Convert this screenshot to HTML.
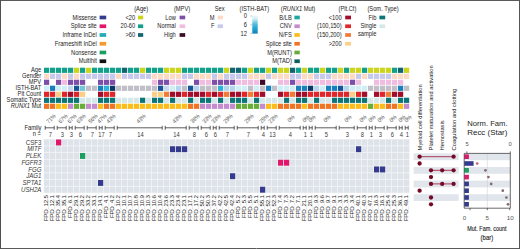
<!DOCTYPE html><html><head><meta charset="utf-8"><style>html,body{margin:0;padding:0;background:#fff;}body{width:520px;height:249px;overflow:hidden;}svg{display:block;}text{font-family:"Liberation Sans", sans-serif;}</style></head><body>
<svg width="520" height="249" viewBox="0 0 520 249" xmlns="http://www.w3.org/2000/svg">
<rect x="0" y="0" width="520" height="249" fill="#fff"/>
<g fill="#222">
<rect x="44.00" y="67.70" width="5.2" height="5.2" fill="#13a08a"/>
<rect x="50.00" y="67.70" width="5.2" height="5.2" fill="#13a08a"/>
<rect x="56.00" y="67.70" width="5.2" height="5.2" fill="#13a08a"/>
<rect x="62.00" y="67.70" width="5.2" height="5.2" fill="#13a08a"/>
<rect x="68.00" y="67.70" width="5.2" height="5.2" fill="#13a08a"/>
<rect x="74.00" y="67.70" width="5.2" height="5.2" fill="#ccd41e"/>
<rect x="80.00" y="67.70" width="5.2" height="5.2" fill="#13a08a"/>
<rect x="86.00" y="67.70" width="5.2" height="5.2" fill="#ccd41e"/>
<rect x="92.00" y="67.70" width="5.2" height="5.2" fill="#13a08a"/>
<rect x="98.00" y="67.70" width="5.2" height="5.2" fill="#13a08a"/>
<rect x="104.00" y="67.70" width="5.2" height="5.2" fill="#13a08a"/>
<rect x="110.00" y="67.70" width="5.2" height="5.2" fill="#13a08a"/>
<rect x="116.00" y="67.70" width="5.2" height="5.2" fill="#13a08a"/>
<rect x="122.00" y="67.70" width="5.2" height="5.2" fill="#106570"/>
<rect x="128.00" y="67.70" width="5.2" height="5.2" fill="#13a08a"/>
<rect x="134.00" y="67.70" width="5.2" height="5.2" fill="#13a08a"/>
<rect x="140.00" y="67.70" width="5.2" height="5.2" fill="#ccd41e"/>
<rect x="146.00" y="67.70" width="5.2" height="5.2" fill="#13a08a"/>
<rect x="152.00" y="67.70" width="5.2" height="5.2" fill="#13a08a"/>
<rect x="158.00" y="67.70" width="5.2" height="5.2" fill="#13a08a"/>
<rect x="164.00" y="67.70" width="5.2" height="5.2" fill="#ccd41e"/>
<rect x="170.00" y="67.70" width="5.2" height="5.2" fill="#ccd41e"/>
<rect x="176.00" y="67.70" width="5.2" height="5.2" fill="#ccd41e"/>
<rect x="182.00" y="67.70" width="5.2" height="5.2" fill="#13a08a"/>
<rect x="188.00" y="67.70" width="5.2" height="5.2" fill="#13a08a"/>
<rect x="194.00" y="67.70" width="5.2" height="5.2" fill="#13a08a"/>
<rect x="200.00" y="67.70" width="5.2" height="5.2" fill="#13a08a"/>
<rect x="206.00" y="67.70" width="5.2" height="5.2" fill="#13a08a"/>
<rect x="212.00" y="67.70" width="5.2" height="5.2" fill="#13a08a"/>
<rect x="218.00" y="67.70" width="5.2" height="5.2" fill="#13a08a"/>
<rect x="224.00" y="67.70" width="5.2" height="5.2" fill="#ccd41e"/>
<rect x="230.00" y="67.70" width="5.2" height="5.2" fill="#106570"/>
<rect x="236.00" y="67.70" width="5.2" height="5.2" fill="#106570"/>
<rect x="242.00" y="67.70" width="5.2" height="5.2" fill="#13a08a"/>
<rect x="248.00" y="67.70" width="5.2" height="5.2" fill="#ccd41e"/>
<rect x="254.00" y="67.70" width="5.2" height="5.2" fill="#13a08a"/>
<rect x="260.00" y="67.70" width="5.2" height="5.2" fill="#13a08a"/>
<rect x="266.00" y="67.70" width="5.2" height="5.2" fill="#ccd41e"/>
<rect x="272.00" y="67.70" width="5.2" height="5.2" fill="#13a08a"/>
<rect x="278.00" y="67.70" width="5.2" height="5.2" fill="#ccd41e"/>
<rect x="284.00" y="67.70" width="5.2" height="5.2" fill="#ccd41e"/>
<rect x="290.00" y="67.70" width="5.2" height="5.2" fill="#106570"/>
<rect x="296.00" y="67.70" width="5.2" height="5.2" fill="#13a08a"/>
<rect x="302.00" y="67.70" width="5.2" height="5.2" fill="#ccd41e"/>
<rect x="308.00" y="67.70" width="5.2" height="5.2" fill="#13a08a"/>
<rect x="314.00" y="67.70" width="5.2" height="5.2" fill="#13a08a"/>
<rect x="320.00" y="67.70" width="5.2" height="5.2" fill="#ccd41e"/>
<rect x="326.00" y="67.70" width="5.2" height="5.2" fill="#13a08a"/>
<rect x="332.00" y="67.70" width="5.2" height="5.2" fill="#13a08a"/>
<rect x="338.00" y="67.70" width="5.2" height="5.2" fill="#ccd41e"/>
<rect x="344.00" y="67.70" width="5.2" height="5.2" fill="#13a08a"/>
<rect x="350.00" y="67.70" width="5.2" height="5.2" fill="#ccd41e"/>
<rect x="356.00" y="67.70" width="5.2" height="5.2" fill="#ccd41e"/>
<rect x="362.00" y="67.70" width="5.2" height="5.2" fill="#13a08a"/>
<rect x="368.00" y="67.70" width="5.2" height="5.2" fill="#ccd41e"/>
<rect x="374.00" y="67.70" width="5.2" height="5.2" fill="#ccd41e"/>
<rect x="380.00" y="67.70" width="5.2" height="5.2" fill="#ccd41e"/>
<rect x="386.00" y="67.70" width="5.2" height="5.2" fill="#ccd41e"/>
<rect x="392.00" y="67.70" width="5.2" height="5.2" fill="#13a08a"/>
<rect x="398.00" y="67.70" width="5.2" height="5.2" fill="#106570"/>
<rect x="404.00" y="67.70" width="5.2" height="5.2" fill="#ccd41e"/>
<rect x="44.00" y="73.70" width="5.2" height="5.2" fill="#fcdac4"/>
<rect x="50.00" y="73.70" width="5.2" height="5.2" fill="#c6c8ec"/>
<rect x="56.00" y="73.70" width="5.2" height="5.2" fill="#c6c8ec"/>
<rect x="62.00" y="73.70" width="5.2" height="5.2" fill="#fcdac4"/>
<rect x="68.00" y="73.70" width="5.2" height="5.2" fill="#c6c8ec"/>
<rect x="74.00" y="73.70" width="5.2" height="5.2" fill="#fcdac4"/>
<rect x="80.00" y="73.70" width="5.2" height="5.2" fill="#c6c8ec"/>
<rect x="86.00" y="73.70" width="5.2" height="5.2" fill="#c6c8ec"/>
<rect x="92.00" y="73.70" width="5.2" height="5.2" fill="#c6c8ec"/>
<rect x="98.00" y="73.70" width="5.2" height="5.2" fill="#c6c8ec"/>
<rect x="104.00" y="73.70" width="5.2" height="5.2" fill="#c6c8ec"/>
<rect x="110.00" y="73.70" width="5.2" height="5.2" fill="#c6c8ec"/>
<rect x="116.00" y="73.70" width="5.2" height="5.2" fill="#fcdac4"/>
<rect x="122.00" y="73.70" width="5.2" height="5.2" fill="#c6c8ec"/>
<rect x="128.00" y="73.70" width="5.2" height="5.2" fill="#c6c8ec"/>
<rect x="134.00" y="73.70" width="5.2" height="5.2" fill="#c6c8ec"/>
<rect x="140.00" y="73.70" width="5.2" height="5.2" fill="#c6c8ec"/>
<rect x="146.00" y="73.70" width="5.2" height="5.2" fill="#c6c8ec"/>
<rect x="152.00" y="73.70" width="5.2" height="5.2" fill="#fcdac4"/>
<rect x="158.00" y="73.70" width="5.2" height="5.2" fill="#fcdac4"/>
<rect x="164.00" y="73.70" width="5.2" height="5.2" fill="#fcdac4"/>
<rect x="170.00" y="73.70" width="5.2" height="5.2" fill="#fcdac4"/>
<rect x="176.00" y="73.70" width="5.2" height="5.2" fill="#fcdac4"/>
<rect x="182.00" y="73.70" width="5.2" height="5.2" fill="#c6c8ec"/>
<rect x="188.00" y="73.70" width="5.2" height="5.2" fill="#c6c8ec"/>
<rect x="194.00" y="73.70" width="5.2" height="5.2" fill="#fcdac4"/>
<rect x="200.00" y="73.70" width="5.2" height="5.2" fill="#fcdac4"/>
<rect x="206.00" y="73.70" width="5.2" height="5.2" fill="#fcdac4"/>
<rect x="212.00" y="73.70" width="5.2" height="5.2" fill="#c6c8ec"/>
<rect x="218.00" y="73.70" width="5.2" height="5.2" fill="#fcdac4"/>
<rect x="224.00" y="73.70" width="5.2" height="5.2" fill="#c6c8ec"/>
<rect x="230.00" y="73.70" width="5.2" height="5.2" fill="#c6c8ec"/>
<rect x="236.00" y="73.70" width="5.2" height="5.2" fill="#c6c8ec"/>
<rect x="242.00" y="73.70" width="5.2" height="5.2" fill="#c6c8ec"/>
<rect x="248.00" y="73.70" width="5.2" height="5.2" fill="#fcdac4"/>
<rect x="254.00" y="73.70" width="5.2" height="5.2" fill="#fcdac4"/>
<rect x="260.00" y="73.70" width="5.2" height="5.2" fill="#fcdac4"/>
<rect x="266.00" y="73.70" width="5.2" height="5.2" fill="#c6c8ec"/>
<rect x="272.00" y="73.70" width="5.2" height="5.2" fill="#fcdac4"/>
<rect x="278.00" y="73.70" width="5.2" height="5.2" fill="#fcdac4"/>
<rect x="284.00" y="73.70" width="5.2" height="5.2" fill="#fcdac4"/>
<rect x="290.00" y="73.70" width="5.2" height="5.2" fill="#c6c8ec"/>
<rect x="296.00" y="73.70" width="5.2" height="5.2" fill="#c6c8ec"/>
<rect x="302.00" y="73.70" width="5.2" height="5.2" fill="#fcdac4"/>
<rect x="308.00" y="73.70" width="5.2" height="5.2" fill="#fcdac4"/>
<rect x="314.00" y="73.70" width="5.2" height="5.2" fill="#c6c8ec"/>
<rect x="320.00" y="73.70" width="5.2" height="5.2" fill="#c6c8ec"/>
<rect x="326.00" y="73.70" width="5.2" height="5.2" fill="#c6c8ec"/>
<rect x="332.00" y="73.70" width="5.2" height="5.2" fill="#fcdac4"/>
<rect x="338.00" y="73.70" width="5.2" height="5.2" fill="#fcdac4"/>
<rect x="344.00" y="73.70" width="5.2" height="5.2" fill="#fcdac4"/>
<rect x="350.00" y="73.70" width="5.2" height="5.2" fill="#fcdac4"/>
<rect x="356.00" y="73.70" width="5.2" height="5.2" fill="#c6c8ec"/>
<rect x="362.00" y="73.70" width="5.2" height="5.2" fill="#fcdac4"/>
<rect x="368.00" y="73.70" width="5.2" height="5.2" fill="#c6c8ec"/>
<rect x="374.00" y="73.70" width="5.2" height="5.2" fill="#c6c8ec"/>
<rect x="380.00" y="73.70" width="5.2" height="5.2" fill="#c6c8ec"/>
<rect x="386.00" y="73.70" width="5.2" height="5.2" fill="#c6c8ec"/>
<rect x="392.00" y="73.70" width="5.2" height="5.2" fill="#fcdac4"/>
<rect x="398.00" y="73.70" width="5.2" height="5.2" fill="#fcdac4"/>
<rect x="404.00" y="73.70" width="5.2" height="5.2" fill="#fcdac4"/>
<rect x="44.00" y="79.70" width="5.2" height="5.2" fill="#7e4fa8"/>
<rect x="56.00" y="79.70" width="5.2" height="5.2" fill="#7e4fa8"/>
<rect x="62.00" y="79.70" width="5.2" height="5.2" fill="#f0bce0"/>
<rect x="68.00" y="79.70" width="5.2" height="5.2" fill="#7e4fa8"/>
<rect x="74.00" y="79.70" width="5.2" height="5.2" fill="#7e4fa8"/>
<rect x="80.00" y="79.70" width="5.2" height="5.2" fill="#7e4fa8"/>
<rect x="98.00" y="79.70" width="5.2" height="5.2" fill="#7e4fa8"/>
<rect x="104.00" y="79.70" width="5.2" height="5.2" fill="#7e4fa8"/>
<rect x="110.00" y="79.70" width="5.2" height="5.2" fill="#7e4fa8"/>
<rect x="152.00" y="79.70" width="5.2" height="5.2" fill="#f0bce0"/>
<rect x="158.00" y="79.70" width="5.2" height="5.2" fill="#7e4fa8"/>
<rect x="164.00" y="79.70" width="5.2" height="5.2" fill="#7e4fa8"/>
<rect x="170.00" y="79.70" width="5.2" height="5.2" fill="#f0bce0"/>
<rect x="176.00" y="79.70" width="5.2" height="5.2" fill="#f0bce0"/>
<rect x="182.00" y="79.70" width="5.2" height="5.2" fill="#f0bce0"/>
<rect x="194.00" y="79.70" width="5.2" height="5.2" fill="#7e4fa8"/>
<rect x="200.00" y="79.70" width="5.2" height="5.2" fill="#f0bce0"/>
<rect x="206.00" y="79.70" width="5.2" height="5.2" fill="#f0bce0"/>
<rect x="212.00" y="79.70" width="5.2" height="5.2" fill="#7e4fa8"/>
<rect x="218.00" y="79.70" width="5.2" height="5.2" fill="#7e4fa8"/>
<rect x="224.00" y="79.70" width="5.2" height="5.2" fill="#7e4fa8"/>
<rect x="230.00" y="79.70" width="5.2" height="5.2" fill="#7e4fa8"/>
<rect x="236.00" y="79.70" width="5.2" height="5.2" fill="#f0bce0"/>
<rect x="242.00" y="79.70" width="5.2" height="5.2" fill="#f0bce0"/>
<rect x="248.00" y="79.70" width="5.2" height="5.2" fill="#f0bce0"/>
<rect x="254.00" y="79.70" width="5.2" height="5.2" fill="#f0bce0"/>
<rect x="260.00" y="79.70" width="5.2" height="5.2" fill="#3d0b26"/>
<rect x="278.00" y="79.70" width="5.2" height="5.2" fill="#f0bce0"/>
<rect x="284.00" y="79.70" width="5.2" height="5.2" fill="#f0bce0"/>
<rect x="290.00" y="79.70" width="5.2" height="5.2" fill="#7e4fa8"/>
<rect x="296.00" y="79.70" width="5.2" height="5.2" fill="#f0bce0"/>
<rect x="302.00" y="79.70" width="5.2" height="5.2" fill="#f0bce0"/>
<rect x="308.00" y="79.70" width="5.2" height="5.2" fill="#f0bce0"/>
<rect x="314.00" y="79.70" width="5.2" height="5.2" fill="#f0bce0"/>
<rect x="320.00" y="79.70" width="5.2" height="5.2" fill="#f0bce0"/>
<rect x="326.00" y="79.70" width="5.2" height="5.2" fill="#f0bce0"/>
<rect x="332.00" y="79.70" width="5.2" height="5.2" fill="#f0bce0"/>
<rect x="338.00" y="79.70" width="5.2" height="5.2" fill="#f0bce0"/>
<rect x="344.00" y="79.70" width="5.2" height="5.2" fill="#f0bce0"/>
<rect x="350.00" y="79.70" width="5.2" height="5.2" fill="#7e4fa8"/>
<rect x="356.00" y="79.70" width="5.2" height="5.2" fill="#f0bce0"/>
<rect x="374.00" y="79.70" width="5.2" height="5.2" fill="#f0bce0"/>
<rect x="380.00" y="79.70" width="5.2" height="5.2" fill="#f0bce0"/>
<rect x="386.00" y="79.70" width="5.2" height="5.2" fill="#f0bce0"/>
<rect x="392.00" y="79.70" width="5.2" height="5.2" fill="#f0bce0"/>
<rect x="398.00" y="79.70" width="5.2" height="5.2" fill="#f0bce0"/>
<rect x="44.00" y="85.70" width="5.2" height="5.2" fill="#d0eef5"/>
<rect x="50.00" y="85.70" width="5.2" height="5.2" fill="#1a80bd"/>
<rect x="56.00" y="85.70" width="5.2" height="5.2" fill="#d0eef5"/>
<rect x="62.00" y="85.70" width="5.2" height="5.2" fill="#d0eef5"/>
<rect x="68.00" y="85.70" width="5.2" height="5.2" fill="#c8d6f0"/>
<rect x="74.00" y="85.70" width="5.2" height="5.2" fill="#185596"/>
<rect x="80.00" y="85.70" width="5.2" height="5.2" fill="#74c6d6"/>
<rect x="86.00" y="85.70" width="5.2" height="5.2" fill="#c0bfc7"/>
<rect x="92.00" y="85.70" width="5.2" height="5.2" fill="#c0bfc7"/>
<rect x="98.00" y="85.70" width="5.2" height="5.2" fill="#1a80bd"/>
<rect x="104.00" y="85.70" width="5.2" height="5.2" fill="#2cb1d8"/>
<rect x="110.00" y="85.70" width="5.2" height="5.2" fill="#0c3766"/>
<rect x="116.00" y="85.70" width="5.2" height="5.2" fill="#c0bfc7"/>
<rect x="122.00" y="85.70" width="5.2" height="5.2" fill="#c0bfc7"/>
<rect x="128.00" y="85.70" width="5.2" height="5.2" fill="#c0bfc7"/>
<rect x="134.00" y="85.70" width="5.2" height="5.2" fill="#c0bfc7"/>
<rect x="140.00" y="85.70" width="5.2" height="5.2" fill="#c0bfc7"/>
<rect x="146.00" y="85.70" width="5.2" height="5.2" fill="#c0bfc7"/>
<rect x="152.00" y="85.70" width="5.2" height="5.2" fill="#c0bfc7"/>
<rect x="158.00" y="85.70" width="5.2" height="5.2" fill="#185596"/>
<rect x="164.00" y="85.70" width="5.2" height="5.2" fill="#c8d6f0"/>
<rect x="170.00" y="85.70" width="5.2" height="5.2" fill="#d0eef5"/>
<rect x="176.00" y="85.70" width="5.2" height="5.2" fill="#b4d6ec"/>
<rect x="182.00" y="85.70" width="5.2" height="5.2" fill="#c0bfc7"/>
<rect x="188.00" y="85.70" width="5.2" height="5.2" fill="#185596"/>
<rect x="194.00" y="85.70" width="5.2" height="5.2" fill="#b4d6ec"/>
<rect x="200.00" y="85.70" width="5.2" height="5.2" fill="#c0bfc7"/>
<rect x="206.00" y="85.70" width="5.2" height="5.2" fill="#c0bfc7"/>
<rect x="212.00" y="85.70" width="5.2" height="5.2" fill="#c0bfc7"/>
<rect x="218.00" y="85.70" width="5.2" height="5.2" fill="#2cb1d8"/>
<rect x="224.00" y="85.70" width="5.2" height="5.2" fill="#b4d6ec"/>
<rect x="230.00" y="85.70" width="5.2" height="5.2" fill="#b4d6ec"/>
<rect x="236.00" y="85.70" width="5.2" height="5.2" fill="#d0eef5"/>
<rect x="242.00" y="85.70" width="5.2" height="5.2" fill="#d0eef5"/>
<rect x="248.00" y="85.70" width="5.2" height="5.2" fill="#c0bfc7"/>
<rect x="254.00" y="85.70" width="5.2" height="5.2" fill="#d0eef5"/>
<rect x="260.00" y="85.70" width="5.2" height="5.2" fill="#c0bfc7"/>
<rect x="266.00" y="85.70" width="5.2" height="5.2" fill="#1a80bd"/>
<rect x="272.00" y="85.70" width="5.2" height="5.2" fill="#c0bfc7"/>
<rect x="278.00" y="85.70" width="5.2" height="5.2" fill="#d0eef5"/>
<rect x="284.00" y="85.70" width="5.2" height="5.2" fill="#d0eef5"/>
<rect x="290.00" y="85.70" width="5.2" height="5.2" fill="#d0eef5"/>
<rect x="296.00" y="85.70" width="5.2" height="5.2" fill="#1a80bd"/>
<rect x="302.00" y="85.70" width="5.2" height="5.2" fill="#1a80bd"/>
<rect x="308.00" y="85.70" width="5.2" height="5.2" fill="#0c3766"/>
<rect x="314.00" y="85.70" width="5.2" height="5.2" fill="#b4d6ec"/>
<rect x="320.00" y="85.70" width="5.2" height="5.2" fill="#d0eef5"/>
<rect x="326.00" y="85.70" width="5.2" height="5.2" fill="#1a80bd"/>
<rect x="332.00" y="85.70" width="5.2" height="5.2" fill="#1a80bd"/>
<rect x="338.00" y="85.70" width="5.2" height="5.2" fill="#185596"/>
<rect x="344.00" y="85.70" width="5.2" height="5.2" fill="#b4d6ec"/>
<rect x="350.00" y="85.70" width="5.2" height="5.2" fill="#d0eef5"/>
<rect x="356.00" y="85.70" width="5.2" height="5.2" fill="#d0eef5"/>
<rect x="362.00" y="85.70" width="5.2" height="5.2" fill="#d0eef5"/>
<rect x="368.00" y="85.70" width="5.2" height="5.2" fill="#c0bfc7"/>
<rect x="374.00" y="85.70" width="5.2" height="5.2" fill="#c0bfc7"/>
<rect x="380.00" y="85.70" width="5.2" height="5.2" fill="#c0bfc7"/>
<rect x="386.00" y="85.70" width="5.2" height="5.2" fill="#c0bfc7"/>
<rect x="392.00" y="85.70" width="5.2" height="5.2" fill="#c0bfc7"/>
<rect x="398.00" y="85.70" width="5.2" height="5.2" fill="#1a80bd"/>
<rect x="404.00" y="85.70" width="5.2" height="5.2" fill="#c0bfc7"/>
<rect x="44.00" y="91.70" width="5.2" height="5.2" fill="#e1262b"/>
<rect x="50.00" y="91.70" width="5.2" height="5.2" fill="#e1262b"/>
<rect x="56.00" y="91.70" width="5.2" height="5.2" fill="#fbcf86"/>
<rect x="62.00" y="91.70" width="5.2" height="5.2" fill="#e1262b"/>
<rect x="68.00" y="91.70" width="5.2" height="5.2" fill="#a10d2a"/>
<rect x="74.00" y="91.70" width="5.2" height="5.2" fill="#e1262b"/>
<rect x="80.00" y="91.70" width="5.2" height="5.2" fill="#fbcf86"/>
<rect x="98.00" y="91.70" width="5.2" height="5.2" fill="#a10d2a"/>
<rect x="104.00" y="91.70" width="5.2" height="5.2" fill="#e1262b"/>
<rect x="110.00" y="91.70" width="5.2" height="5.2" fill="#e1262b"/>
<rect x="152.00" y="91.70" width="5.2" height="5.2" fill="#fbcf86"/>
<rect x="158.00" y="91.70" width="5.2" height="5.2" fill="#fbcf86"/>
<rect x="164.00" y="91.70" width="5.2" height="5.2" fill="#f07c38"/>
<rect x="170.00" y="91.70" width="5.2" height="5.2" fill="#a10d2a"/>
<rect x="176.00" y="91.70" width="5.2" height="5.2" fill="#a10d2a"/>
<rect x="182.00" y="91.70" width="5.2" height="5.2" fill="#e1262b"/>
<rect x="188.00" y="91.70" width="5.2" height="5.2" fill="#a10d2a"/>
<rect x="194.00" y="91.70" width="5.2" height="5.2" fill="#a10d2a"/>
<rect x="200.00" y="91.70" width="5.2" height="5.2" fill="#a10d2a"/>
<rect x="206.00" y="91.70" width="5.2" height="5.2" fill="#e1262b"/>
<rect x="212.00" y="91.70" width="5.2" height="5.2" fill="#a10d2a"/>
<rect x="218.00" y="91.70" width="5.2" height="5.2" fill="#e1262b"/>
<rect x="224.00" y="91.70" width="5.2" height="5.2" fill="#f07c38"/>
<rect x="230.00" y="91.70" width="5.2" height="5.2" fill="#a10d2a"/>
<rect x="236.00" y="91.70" width="5.2" height="5.2" fill="#a10d2a"/>
<rect x="242.00" y="91.70" width="5.2" height="5.2" fill="#e1262b"/>
<rect x="248.00" y="91.70" width="5.2" height="5.2" fill="#f07c38"/>
<rect x="254.00" y="91.70" width="5.2" height="5.2" fill="#e1262b"/>
<rect x="260.00" y="91.70" width="5.2" height="5.2" fill="#a10d2a"/>
<rect x="278.00" y="91.70" width="5.2" height="5.2" fill="#a10d2a"/>
<rect x="284.00" y="91.70" width="5.2" height="5.2" fill="#e1262b"/>
<rect x="290.00" y="91.70" width="5.2" height="5.2" fill="#f07c38"/>
<rect x="296.00" y="91.70" width="5.2" height="5.2" fill="#a10d2a"/>
<rect x="302.00" y="91.70" width="5.2" height="5.2" fill="#a10d2a"/>
<rect x="308.00" y="91.70" width="5.2" height="5.2" fill="#e1262b"/>
<rect x="314.00" y="91.70" width="5.2" height="5.2" fill="#e1262b"/>
<rect x="320.00" y="91.70" width="5.2" height="5.2" fill="#e1262b"/>
<rect x="326.00" y="91.70" width="5.2" height="5.2" fill="#e1262b"/>
<rect x="332.00" y="91.70" width="5.2" height="5.2" fill="#e1262b"/>
<rect x="338.00" y="91.70" width="5.2" height="5.2" fill="#e1262b"/>
<rect x="344.00" y="91.70" width="5.2" height="5.2" fill="#e1262b"/>
<rect x="350.00" y="91.70" width="5.2" height="5.2" fill="#fbcf86"/>
<rect x="356.00" y="91.70" width="5.2" height="5.2" fill="#e1262b"/>
<rect x="362.00" y="91.70" width="5.2" height="5.2" fill="#a10d2a"/>
<rect x="374.00" y="91.70" width="5.2" height="5.2" fill="#a10d2a"/>
<rect x="380.00" y="91.70" width="5.2" height="5.2" fill="#e1262b"/>
<rect x="386.00" y="91.70" width="5.2" height="5.2" fill="#f07c38"/>
<rect x="392.00" y="91.70" width="5.2" height="5.2" fill="#a10d2a"/>
<rect x="398.00" y="91.70" width="5.2" height="5.2" fill="#a10d2a"/>
<rect x="44.00" y="97.70" width="5.2" height="5.2" fill="#0d7478"/>
<rect x="50.00" y="97.70" width="5.2" height="5.2" fill="#0d7478"/>
<rect x="56.00" y="97.70" width="5.2" height="5.2" fill="#0d7478"/>
<rect x="62.00" y="97.70" width="5.2" height="5.2" fill="#0d7478"/>
<rect x="68.00" y="97.70" width="5.2" height="5.2" fill="#0d7478"/>
<rect x="74.00" y="97.70" width="5.2" height="5.2" fill="#0d7478"/>
<rect x="80.00" y="97.70" width="5.2" height="5.2" fill="#d4e8ea"/>
<rect x="86.00" y="97.70" width="5.2" height="5.2" fill="#d4e8ea"/>
<rect x="92.00" y="97.70" width="5.2" height="5.2" fill="#d4e8ea"/>
<rect x="98.00" y="97.70" width="5.2" height="5.2" fill="#0d7478"/>
<rect x="104.00" y="97.70" width="5.2" height="5.2" fill="#0d7478"/>
<rect x="110.00" y="97.70" width="5.2" height="5.2" fill="#0d7478"/>
<rect x="116.00" y="97.70" width="5.2" height="5.2" fill="#d4e8ea"/>
<rect x="122.00" y="97.70" width="5.2" height="5.2" fill="#d4e8ea"/>
<rect x="128.00" y="97.70" width="5.2" height="5.2" fill="#d4e8ea"/>
<rect x="134.00" y="97.70" width="5.2" height="5.2" fill="#d4e8ea"/>
<rect x="140.00" y="97.70" width="5.2" height="5.2" fill="#0d7478"/>
<rect x="146.00" y="97.70" width="5.2" height="5.2" fill="#d4e8ea"/>
<rect x="152.00" y="97.70" width="5.2" height="5.2" fill="#0d7478"/>
<rect x="158.00" y="97.70" width="5.2" height="5.2" fill="#0d7478"/>
<rect x="164.00" y="97.70" width="5.2" height="5.2" fill="#d4e8ea"/>
<rect x="170.00" y="97.70" width="5.2" height="5.2" fill="#0d7478"/>
<rect x="176.00" y="97.70" width="5.2" height="5.2" fill="#d4e8ea"/>
<rect x="182.00" y="97.70" width="5.2" height="5.2" fill="#d4e8ea"/>
<rect x="188.00" y="97.70" width="5.2" height="5.2" fill="#0d7478"/>
<rect x="194.00" y="97.70" width="5.2" height="5.2" fill="#d4e8ea"/>
<rect x="200.00" y="97.70" width="5.2" height="5.2" fill="#0d7478"/>
<rect x="206.00" y="97.70" width="5.2" height="5.2" fill="#0d7478"/>
<rect x="212.00" y="97.70" width="5.2" height="5.2" fill="#d4e8ea"/>
<rect x="218.00" y="97.70" width="5.2" height="5.2" fill="#0d7478"/>
<rect x="224.00" y="97.70" width="5.2" height="5.2" fill="#d4e8ea"/>
<rect x="230.00" y="97.70" width="5.2" height="5.2" fill="#0d7478"/>
<rect x="236.00" y="97.70" width="5.2" height="5.2" fill="#0d7478"/>
<rect x="242.00" y="97.70" width="5.2" height="5.2" fill="#0d7478"/>
<rect x="248.00" y="97.70" width="5.2" height="5.2" fill="#d4e8ea"/>
<rect x="254.00" y="97.70" width="5.2" height="5.2" fill="#0d7478"/>
<rect x="260.00" y="97.70" width="5.2" height="5.2" fill="#d4e8ea"/>
<rect x="266.00" y="97.70" width="5.2" height="5.2" fill="#d4e8ea"/>
<rect x="272.00" y="97.70" width="5.2" height="5.2" fill="#d4e8ea"/>
<rect x="278.00" y="97.70" width="5.2" height="5.2" fill="#d4e8ea"/>
<rect x="284.00" y="97.70" width="5.2" height="5.2" fill="#0d7478"/>
<rect x="290.00" y="97.70" width="5.2" height="5.2" fill="#d4e8ea"/>
<rect x="296.00" y="97.70" width="5.2" height="5.2" fill="#0d7478"/>
<rect x="302.00" y="97.70" width="5.2" height="5.2" fill="#0d7478"/>
<rect x="308.00" y="97.70" width="5.2" height="5.2" fill="#d4e8ea"/>
<rect x="314.00" y="97.70" width="5.2" height="5.2" fill="#0d7478"/>
<rect x="320.00" y="97.70" width="5.2" height="5.2" fill="#d4e8ea"/>
<rect x="326.00" y="97.70" width="5.2" height="5.2" fill="#d4e8ea"/>
<rect x="332.00" y="97.70" width="5.2" height="5.2" fill="#0d7478"/>
<rect x="338.00" y="97.70" width="5.2" height="5.2" fill="#0d7478"/>
<rect x="344.00" y="97.70" width="5.2" height="5.2" fill="#0d7478"/>
<rect x="350.00" y="97.70" width="5.2" height="5.2" fill="#0d7478"/>
<rect x="356.00" y="97.70" width="5.2" height="5.2" fill="#0d7478"/>
<rect x="362.00" y="97.70" width="5.2" height="5.2" fill="#0d7478"/>
<rect x="368.00" y="97.70" width="5.2" height="5.2" fill="#d4e8ea"/>
<rect x="374.00" y="97.70" width="5.2" height="5.2" fill="#d4e8ea"/>
<rect x="380.00" y="97.70" width="5.2" height="5.2" fill="#d4e8ea"/>
<rect x="386.00" y="97.70" width="5.2" height="5.2" fill="#0d7478"/>
<rect x="392.00" y="97.70" width="5.2" height="5.2" fill="#d4e8ea"/>
<rect x="398.00" y="97.70" width="5.2" height="5.2" fill="#0d7478"/>
<rect x="404.00" y="97.70" width="5.2" height="5.2" fill="#0d7478"/>
<rect x="44.00" y="103.70" width="5.2" height="5.2" fill="#ef7424"/>
<rect x="50.00" y="103.70" width="5.2" height="5.2" fill="#ef7424"/>
<rect x="56.00" y="103.70" width="5.2" height="5.2" fill="#fbbd1c"/>
<rect x="62.00" y="103.70" width="5.2" height="5.2" fill="#fbbd1c"/>
<rect x="68.00" y="103.70" width="5.2" height="5.2" fill="#c48ccc"/>
<rect x="74.00" y="103.70" width="5.2" height="5.2" fill="#68ad3a"/>
<rect x="80.00" y="103.70" width="5.2" height="5.2" fill="#68ad3a"/>
<rect x="86.00" y="103.70" width="5.2" height="5.2" fill="#c48ccc"/>
<rect x="92.00" y="103.70" width="5.2" height="5.2" fill="#c48ccc"/>
<rect x="98.00" y="103.70" width="5.2" height="5.2" fill="#fbbd1c"/>
<rect x="104.00" y="103.70" width="5.2" height="5.2" fill="#ef7424"/>
<rect x="110.00" y="103.70" width="5.2" height="5.2" fill="#ef7424"/>
<rect x="116.00" y="103.70" width="5.2" height="5.2" fill="#fbbd1c"/>
<rect x="122.00" y="103.70" width="5.2" height="5.2" fill="#fbbd1c"/>
<rect x="128.00" y="103.70" width="5.2" height="5.2" fill="#fbbd1c"/>
<rect x="134.00" y="103.70" width="5.2" height="5.2" fill="#fbbd1c"/>
<rect x="140.00" y="103.70" width="5.2" height="5.2" fill="#fbbd1c"/>
<rect x="146.00" y="103.70" width="5.2" height="5.2" fill="#fbbd1c"/>
<rect x="152.00" y="103.70" width="5.2" height="5.2" fill="#fbbd1c"/>
<rect x="158.00" y="103.70" width="5.2" height="5.2" fill="#fbbd1c"/>
<rect x="164.00" y="103.70" width="5.2" height="5.2" fill="#fbbd1c"/>
<rect x="170.00" y="103.70" width="5.2" height="5.2" fill="#fbbd1c"/>
<rect x="176.00" y="103.70" width="5.2" height="5.2" fill="#fbbd1c"/>
<rect x="182.00" y="103.70" width="5.2" height="5.2" fill="#fbbd1c"/>
<rect x="188.00" y="103.70" width="5.2" height="5.2" fill="#ef7424"/>
<rect x="194.00" y="103.70" width="5.2" height="5.2" fill="#ef7424"/>
<rect x="200.00" y="103.70" width="5.2" height="5.2" fill="#c48ccc"/>
<rect x="206.00" y="103.70" width="5.2" height="5.2" fill="#c48ccc"/>
<rect x="212.00" y="103.70" width="5.2" height="5.2" fill="#c48ccc"/>
<rect x="218.00" y="103.70" width="5.2" height="5.2" fill="#c48ccc"/>
<rect x="224.00" y="103.70" width="5.2" height="5.2" fill="#c48ccc"/>
<rect x="230.00" y="103.70" width="5.2" height="5.2" fill="#c48ccc"/>
<rect x="236.00" y="103.70" width="5.2" height="5.2" fill="#68ad3a"/>
<rect x="242.00" y="103.70" width="5.2" height="5.2" fill="#68ad3a"/>
<rect x="248.00" y="103.70" width="5.2" height="5.2" fill="#68ad3a"/>
<rect x="254.00" y="103.70" width="5.2" height="5.2" fill="#68ad3a"/>
<rect x="260.00" y="103.70" width="5.2" height="5.2" fill="#c48ccc"/>
<rect x="266.00" y="103.70" width="5.2" height="5.2" fill="#fbbd1c"/>
<rect x="272.00" y="103.70" width="5.2" height="5.2" fill="#fbbd1c"/>
<rect x="278.00" y="103.70" width="5.2" height="5.2" fill="#ef7424"/>
<rect x="284.00" y="103.70" width="5.2" height="5.2" fill="#ef7424"/>
<rect x="290.00" y="103.70" width="5.2" height="5.2" fill="#ef7424"/>
<rect x="296.00" y="103.70" width="5.2" height="5.2" fill="#ef7424"/>
<rect x="302.00" y="103.70" width="5.2" height="5.2" fill="#fbbd1c"/>
<rect x="308.00" y="103.70" width="5.2" height="5.2" fill="#ef7424"/>
<rect x="314.00" y="103.70" width="5.2" height="5.2" fill="#ef7424"/>
<rect x="320.00" y="103.70" width="5.2" height="5.2" fill="#ef7424"/>
<rect x="326.00" y="103.70" width="5.2" height="5.2" fill="#ef7424"/>
<rect x="332.00" y="103.70" width="5.2" height="5.2" fill="#ef7424"/>
<rect x="338.00" y="103.70" width="5.2" height="5.2" fill="#fbbd1c"/>
<rect x="344.00" y="103.70" width="5.2" height="5.2" fill="#fbbd1c"/>
<rect x="350.00" y="103.70" width="5.2" height="5.2" fill="#fbbd1c"/>
<rect x="356.00" y="103.70" width="5.2" height="5.2" fill="#fbbd1c"/>
<rect x="362.00" y="103.70" width="5.2" height="5.2" fill="#fbbd1c"/>
<rect x="368.00" y="103.70" width="5.2" height="5.2" fill="#68ad3a"/>
<rect x="374.00" y="103.70" width="5.2" height="5.2" fill="#fbbd1c"/>
<rect x="380.00" y="103.70" width="5.2" height="5.2" fill="#fbbd1c"/>
<rect x="386.00" y="103.70" width="5.2" height="5.2" fill="#ef7424"/>
<rect x="392.00" y="103.70" width="5.2" height="5.2" fill="#ef7424"/>
<rect x="398.00" y="103.70" width="5.2" height="5.2" fill="#fbbd1c"/>
<rect x="404.00" y="103.70" width="5.2" height="5.2" fill="#c48ccc"/>
<text transform="translate(41.20,72.40) scale(0.89,1)" font-size="6.45" text-anchor="end" >Age</text>
<text transform="translate(41.20,78.40) scale(0.89,1)" font-size="6.45" text-anchor="end" >Gender</text>
<text transform="translate(41.20,84.40) scale(0.89,1)" font-size="6.45" text-anchor="end" >MPV</text>
<text transform="translate(41.20,90.40) scale(0.89,1)" font-size="6.45" text-anchor="end" >ISTH-BAT</text>
<text transform="translate(41.20,96.40) scale(0.89,1)" font-size="6.45" text-anchor="end" >Plt Count</text>
<text transform="translate(41.20,102.40) scale(0.89,1)" font-size="6.45" text-anchor="end" >Somatic Type</text>
<text transform="translate(41.20,108.40) scale(0.89,1)" font-size="6.45" text-anchor="end" ><tspan font-style="italic">RUNX1</tspan> Mut</text>
<line x1="45.20" y1="127.8" x2="54.20" y2="127.8" stroke="#333" stroke-width="0.8"/>
<line x1="45.20" y1="125.8" x2="45.20" y2="129.8" stroke="#333" stroke-width="0.8"/>
<line x1="54.20" y1="125.8" x2="54.20" y2="129.8" stroke="#333" stroke-width="0.8"/>
<text transform="translate(50.40,136.50) scale(0.89,1)" font-size="6.45" text-anchor="middle" fill="#3a3a3a" >7</text>
<text transform="translate(52.40,120.1) rotate(-45) scale(0.9,1)" font-size="5.9" text-anchor="middle" fill="#555">71%</text>
<line x1="57.20" y1="127.8" x2="66.20" y2="127.8" stroke="#333" stroke-width="0.8"/>
<line x1="57.20" y1="125.8" x2="57.20" y2="129.8" stroke="#333" stroke-width="0.8"/>
<line x1="66.20" y1="125.8" x2="66.20" y2="129.8" stroke="#333" stroke-width="0.8"/>
<text transform="translate(62.40,136.50) scale(0.89,1)" font-size="6.45" text-anchor="middle" fill="#3a3a3a" >3</text>
<text transform="translate(64.40,120.1) rotate(-45) scale(0.9,1)" font-size="5.9" text-anchor="middle" fill="#555">67%</text>
<line x1="69.20" y1="127.8" x2="72.20" y2="127.8" stroke="#333" stroke-width="0.8"/>
<line x1="69.20" y1="125.8" x2="69.20" y2="129.8" stroke="#333" stroke-width="0.8"/>
<line x1="72.20" y1="125.8" x2="72.20" y2="129.8" stroke="#333" stroke-width="0.8"/>
<text transform="translate(71.40,136.50) scale(0.89,1)" font-size="6.45" text-anchor="middle" fill="#3a3a3a" >3</text>
<text transform="translate(73.40,120.1) rotate(-45) scale(0.9,1)" font-size="5.9" text-anchor="middle" fill="#555">67%</text>
<line x1="75.20" y1="127.8" x2="84.20" y2="127.8" stroke="#333" stroke-width="0.8"/>
<line x1="75.20" y1="125.8" x2="75.20" y2="129.8" stroke="#333" stroke-width="0.8"/>
<line x1="84.20" y1="125.8" x2="84.20" y2="129.8" stroke="#333" stroke-width="0.8"/>
<text transform="translate(80.40,136.50) scale(0.89,1)" font-size="6.45" text-anchor="middle" fill="#3a3a3a" >6</text>
<text transform="translate(82.40,120.1) rotate(-45) scale(0.9,1)" font-size="5.9" text-anchor="middle" fill="#555">63%</text>
<line x1="87.20" y1="127.8" x2="96.20" y2="127.8" stroke="#333" stroke-width="0.8"/>
<line x1="87.20" y1="125.8" x2="87.20" y2="129.8" stroke="#333" stroke-width="0.8"/>
<line x1="96.20" y1="125.8" x2="96.20" y2="129.8" stroke="#333" stroke-width="0.8"/>
<text transform="translate(92.40,136.50) scale(0.89,1)" font-size="6.45" text-anchor="middle" fill="#3a3a3a" >7</text>
<text transform="translate(94.40,120.1) rotate(-45) scale(0.9,1)" font-size="5.9" text-anchor="middle" fill="#555">56%</text>
<line x1="99.20" y1="127.8" x2="102.20" y2="127.8" stroke="#333" stroke-width="0.8"/>
<line x1="99.20" y1="125.8" x2="99.20" y2="129.8" stroke="#333" stroke-width="0.8"/>
<line x1="102.20" y1="125.8" x2="102.20" y2="129.8" stroke="#333" stroke-width="0.8"/>
<text transform="translate(101.40,136.50) scale(0.89,1)" font-size="6.45" text-anchor="middle" fill="#3a3a3a" >17</text>
<text transform="translate(103.40,120.1) rotate(-45) scale(0.9,1)" font-size="5.9" text-anchor="middle" fill="#555">47%</text>
<line x1="105.20" y1="127.8" x2="114.20" y2="127.8" stroke="#333" stroke-width="0.8"/>
<line x1="105.20" y1="125.8" x2="105.20" y2="129.8" stroke="#333" stroke-width="0.8"/>
<line x1="114.20" y1="125.8" x2="114.20" y2="129.8" stroke="#333" stroke-width="0.8"/>
<text transform="translate(110.40,136.50) scale(0.89,1)" font-size="6.45" text-anchor="middle" fill="#3a3a3a" >7</text>
<text transform="translate(112.40,120.1) rotate(-45) scale(0.9,1)" font-size="5.9" text-anchor="middle" fill="#555">43%</text>
<line x1="117.20" y1="127.8" x2="162.20" y2="127.8" stroke="#333" stroke-width="0.8"/>
<line x1="117.20" y1="125.8" x2="117.20" y2="129.8" stroke="#333" stroke-width="0.8"/>
<line x1="162.20" y1="125.8" x2="162.20" y2="129.8" stroke="#333" stroke-width="0.8"/>
<text transform="translate(140.40,136.50) scale(0.89,1)" font-size="6.45" text-anchor="middle" fill="#3a3a3a" >14</text>
<text transform="translate(142.40,120.1) rotate(-45) scale(0.9,1)" font-size="5.9" text-anchor="middle" fill="#555">43%</text>
<line x1="165.20" y1="127.8" x2="186.20" y2="127.8" stroke="#333" stroke-width="0.8"/>
<line x1="165.20" y1="125.8" x2="165.20" y2="129.8" stroke="#333" stroke-width="0.8"/>
<line x1="186.20" y1="125.8" x2="186.20" y2="129.8" stroke="#333" stroke-width="0.8"/>
<text transform="translate(176.40,136.50) scale(0.89,1)" font-size="6.45" text-anchor="middle" fill="#3a3a3a" >14</text>
<text transform="translate(178.40,120.1) rotate(-45) scale(0.9,1)" font-size="5.9" text-anchor="middle" fill="#555">43%</text>
<line x1="189.20" y1="127.8" x2="198.20" y2="127.8" stroke="#333" stroke-width="0.8"/>
<line x1="189.20" y1="125.8" x2="189.20" y2="129.8" stroke="#333" stroke-width="0.8"/>
<line x1="198.20" y1="125.8" x2="198.20" y2="129.8" stroke="#333" stroke-width="0.8"/>
<text transform="translate(194.40,136.50) scale(0.89,1)" font-size="6.45" text-anchor="middle" fill="#3a3a3a" >8</text>
<text transform="translate(196.40,120.1) rotate(-45) scale(0.9,1)" font-size="5.9" text-anchor="middle" fill="#555">38%</text>
<line x1="201.20" y1="127.8" x2="210.20" y2="127.8" stroke="#333" stroke-width="0.8"/>
<line x1="201.20" y1="125.8" x2="201.20" y2="129.8" stroke="#333" stroke-width="0.8"/>
<line x1="210.20" y1="125.8" x2="210.20" y2="129.8" stroke="#333" stroke-width="0.8"/>
<text transform="translate(206.40,136.50) scale(0.89,1)" font-size="6.45" text-anchor="middle" fill="#3a3a3a" >6</text>
<text transform="translate(208.40,120.1) rotate(-45) scale(0.9,1)" font-size="5.9" text-anchor="middle" fill="#555">33%</text>
<line x1="213.20" y1="127.8" x2="216.20" y2="127.8" stroke="#333" stroke-width="0.8"/>
<line x1="213.20" y1="125.8" x2="213.20" y2="129.8" stroke="#333" stroke-width="0.8"/>
<line x1="216.20" y1="125.8" x2="216.20" y2="129.8" stroke="#333" stroke-width="0.8"/>
<text transform="translate(215.40,136.50) scale(0.89,1)" font-size="6.45" text-anchor="middle" fill="#3a3a3a" >6</text>
<text transform="translate(217.40,120.1) rotate(-45) scale(0.9,1)" font-size="5.9" text-anchor="middle" fill="#555">33%</text>
<line x1="219.20" y1="127.8" x2="234.20" y2="127.8" stroke="#333" stroke-width="0.8"/>
<line x1="219.20" y1="125.8" x2="219.20" y2="129.8" stroke="#333" stroke-width="0.8"/>
<line x1="234.20" y1="125.8" x2="234.20" y2="129.8" stroke="#333" stroke-width="0.8"/>
<text transform="translate(227.40,136.50) scale(0.89,1)" font-size="6.45" text-anchor="middle" fill="#3a3a3a" >7</text>
<text transform="translate(229.40,120.1) rotate(-45) scale(0.9,1)" font-size="5.9" text-anchor="middle" fill="#555">29%</text>
<line x1="237.20" y1="127.8" x2="258.20" y2="127.8" stroke="#333" stroke-width="0.8"/>
<line x1="237.20" y1="125.8" x2="237.20" y2="129.8" stroke="#333" stroke-width="0.8"/>
<line x1="258.20" y1="125.8" x2="258.20" y2="129.8" stroke="#333" stroke-width="0.8"/>
<text transform="translate(248.40,136.50) scale(0.89,1)" font-size="6.45" text-anchor="middle" fill="#3a3a3a" >7</text>
<text transform="translate(250.40,120.1) rotate(-45) scale(0.9,1)" font-size="5.9" text-anchor="middle" fill="#555">29%</text>
<line x1="261.20" y1="127.8" x2="264.20" y2="127.8" stroke="#333" stroke-width="0.8"/>
<line x1="261.20" y1="125.8" x2="261.20" y2="129.8" stroke="#333" stroke-width="0.8"/>
<line x1="264.20" y1="125.8" x2="264.20" y2="129.8" stroke="#333" stroke-width="0.8"/>
<text transform="translate(263.40,136.50) scale(0.89,1)" font-size="6.45" text-anchor="middle" fill="#3a3a3a" >4</text>
<text transform="translate(265.40,120.1) rotate(-45) scale(0.9,1)" font-size="5.9" text-anchor="middle" fill="#555">25%</text>
<line x1="267.20" y1="127.8" x2="276.20" y2="127.8" stroke="#333" stroke-width="0.8"/>
<line x1="267.20" y1="125.8" x2="267.20" y2="129.8" stroke="#333" stroke-width="0.8"/>
<line x1="276.20" y1="125.8" x2="276.20" y2="129.8" stroke="#333" stroke-width="0.8"/>
<text transform="translate(272.40,136.50) scale(0.89,1)" font-size="6.45" text-anchor="middle" fill="#3a3a3a" >13</text>
<text transform="translate(274.40,120.1) rotate(-45) scale(0.9,1)" font-size="5.9" text-anchor="middle" fill="#555">23%</text>
<line x1="279.20" y1="127.8" x2="300.20" y2="127.8" stroke="#333" stroke-width="0.8"/>
<line x1="279.20" y1="125.8" x2="279.20" y2="129.8" stroke="#333" stroke-width="0.8"/>
<line x1="300.20" y1="125.8" x2="300.20" y2="129.8" stroke="#333" stroke-width="0.8"/>
<text transform="translate(290.40,136.50) scale(0.89,1)" font-size="6.45" text-anchor="middle" fill="#3a3a3a" >4</text>
<text transform="translate(292.40,120.1) rotate(-45) scale(0.9,1)" font-size="5.9" text-anchor="middle" fill="#555">0%</text>
<line x1="303.20" y1="127.8" x2="306.20" y2="127.8" stroke="#333" stroke-width="0.8"/>
<line x1="303.20" y1="125.8" x2="303.20" y2="129.8" stroke="#333" stroke-width="0.8"/>
<line x1="306.20" y1="125.8" x2="306.20" y2="129.8" stroke="#333" stroke-width="0.8"/>
<text transform="translate(305.40,136.50) scale(0.89,1)" font-size="6.45" text-anchor="middle" fill="#3a3a3a" >1</text>
<text transform="translate(307.40,120.1) rotate(-45) scale(0.9,1)" font-size="5.9" text-anchor="middle" fill="#555">0%</text>
<line x1="309.20" y1="127.8" x2="312.20" y2="127.8" stroke="#333" stroke-width="0.8"/>
<line x1="309.20" y1="125.8" x2="309.20" y2="129.8" stroke="#333" stroke-width="0.8"/>
<line x1="312.20" y1="125.8" x2="312.20" y2="129.8" stroke="#333" stroke-width="0.8"/>
<text transform="translate(311.40,136.50) scale(0.89,1)" font-size="6.45" text-anchor="middle" fill="#3a3a3a" >1</text>
<text transform="translate(313.40,120.1) rotate(-45) scale(0.9,1)" font-size="5.9" text-anchor="middle" fill="#555">0%</text>
<line x1="315.20" y1="127.8" x2="336.20" y2="127.8" stroke="#333" stroke-width="0.8"/>
<line x1="315.20" y1="125.8" x2="315.20" y2="129.8" stroke="#333" stroke-width="0.8"/>
<line x1="336.20" y1="125.8" x2="336.20" y2="129.8" stroke="#333" stroke-width="0.8"/>
<text transform="translate(326.40,136.50) scale(0.89,1)" font-size="6.45" text-anchor="middle" fill="#3a3a3a" >5</text>
<text transform="translate(328.40,120.1) rotate(-45) scale(0.9,1)" font-size="5.9" text-anchor="middle" fill="#555">0%</text>
<line x1="339.20" y1="127.8" x2="354.20" y2="127.8" stroke="#333" stroke-width="0.8"/>
<line x1="339.20" y1="125.8" x2="339.20" y2="129.8" stroke="#333" stroke-width="0.8"/>
<line x1="354.20" y1="125.8" x2="354.20" y2="129.8" stroke="#333" stroke-width="0.8"/>
<text transform="translate(347.40,136.50) scale(0.89,1)" font-size="6.45" text-anchor="middle" fill="#3a3a3a" >3</text>
<text transform="translate(349.40,120.1) rotate(-45) scale(0.9,1)" font-size="5.9" text-anchor="middle" fill="#555">0%</text>
<line x1="357.20" y1="127.8" x2="366.20" y2="127.8" stroke="#333" stroke-width="0.8"/>
<line x1="357.20" y1="125.8" x2="357.20" y2="129.8" stroke="#333" stroke-width="0.8"/>
<line x1="366.20" y1="125.8" x2="366.20" y2="129.8" stroke="#333" stroke-width="0.8"/>
<text transform="translate(362.40,136.50) scale(0.89,1)" font-size="6.45" text-anchor="middle" fill="#3a3a3a" >8</text>
<text transform="translate(364.40,120.1) rotate(-45) scale(0.9,1)" font-size="5.9" text-anchor="middle" fill="#555">0%</text>
<line x1="369.20" y1="127.8" x2="372.20" y2="127.8" stroke="#333" stroke-width="0.8"/>
<line x1="369.20" y1="125.8" x2="369.20" y2="129.8" stroke="#333" stroke-width="0.8"/>
<line x1="372.20" y1="125.8" x2="372.20" y2="129.8" stroke="#333" stroke-width="0.8"/>
<text transform="translate(371.40,136.50) scale(0.89,1)" font-size="6.45" text-anchor="middle" fill="#3a3a3a" >1</text>
<text transform="translate(373.40,120.1) rotate(-45) scale(0.9,1)" font-size="5.9" text-anchor="middle" fill="#555">0%</text>
<line x1="375.20" y1="127.8" x2="384.20" y2="127.8" stroke="#333" stroke-width="0.8"/>
<line x1="375.20" y1="125.8" x2="375.20" y2="129.8" stroke="#333" stroke-width="0.8"/>
<line x1="384.20" y1="125.8" x2="384.20" y2="129.8" stroke="#333" stroke-width="0.8"/>
<text transform="translate(380.40,136.50) scale(0.89,1)" font-size="6.45" text-anchor="middle" fill="#3a3a3a" >3</text>
<text transform="translate(382.40,120.1) rotate(-45) scale(0.9,1)" font-size="5.9" text-anchor="middle" fill="#555">0%</text>
<line x1="387.20" y1="127.8" x2="396.20" y2="127.8" stroke="#333" stroke-width="0.8"/>
<line x1="387.20" y1="125.8" x2="387.20" y2="129.8" stroke="#333" stroke-width="0.8"/>
<line x1="396.20" y1="125.8" x2="396.20" y2="129.8" stroke="#333" stroke-width="0.8"/>
<text transform="translate(392.40,136.50) scale(0.89,1)" font-size="6.45" text-anchor="middle" fill="#3a3a3a" >6</text>
<text transform="translate(394.40,120.1) rotate(-45) scale(0.9,1)" font-size="5.9" text-anchor="middle" fill="#555">0%</text>
<line x1="399.20" y1="127.8" x2="402.20" y2="127.8" stroke="#333" stroke-width="0.8"/>
<line x1="399.20" y1="125.8" x2="399.20" y2="129.8" stroke="#333" stroke-width="0.8"/>
<line x1="402.20" y1="125.8" x2="402.20" y2="129.8" stroke="#333" stroke-width="0.8"/>
<text transform="translate(401.40,136.50) scale(0.89,1)" font-size="6.45" text-anchor="middle" fill="#3a3a3a" >4</text>
<text transform="translate(403.40,120.1) rotate(-45) scale(0.9,1)" font-size="5.9" text-anchor="middle" fill="#555">0%</text>
<line x1="405.20" y1="127.8" x2="408.20" y2="127.8" stroke="#333" stroke-width="0.8"/>
<line x1="405.20" y1="125.8" x2="405.20" y2="129.8" stroke="#333" stroke-width="0.8"/>
<line x1="408.20" y1="125.8" x2="408.20" y2="129.8" stroke="#333" stroke-width="0.8"/>
<text transform="translate(407.40,136.50) scale(0.89,1)" font-size="6.45" text-anchor="middle" fill="#3a3a3a" >1</text>
<text transform="translate(409.40,120.1) rotate(-45) scale(0.9,1)" font-size="5.9" text-anchor="middle" fill="#555">0%</text>
<text transform="translate(41.40,129.70) scale(0.89,1)" font-size="6.45" text-anchor="end" >Family</text>
<text transform="translate(40.80,136.30) scale(0.89,1)" font-size="6.45" text-anchor="end" >n =</text>
<rect x="43.6" y="139.1" width="366.0" height="53.949999999999996" fill="#f2f4f7"/>
<rect x="44.00" y="139.50" width="5.2" height="5.9" fill="#dee3e9"/>
<rect x="50.00" y="139.50" width="5.2" height="5.9" fill="#dee3e9"/>
<rect x="56.00" y="139.50" width="5.2" height="5.9" fill="#dee3e9"/>
<rect x="62.00" y="139.50" width="5.2" height="5.9" fill="#dee3e9"/>
<rect x="68.00" y="139.50" width="5.2" height="5.9" fill="#dee3e9"/>
<rect x="74.00" y="139.50" width="5.2" height="5.9" fill="#dee3e9"/>
<rect x="80.00" y="139.50" width="5.2" height="5.9" fill="#dee3e9"/>
<rect x="86.00" y="139.50" width="5.2" height="5.9" fill="#dee3e9"/>
<rect x="92.00" y="139.50" width="5.2" height="5.9" fill="#dee3e9"/>
<rect x="98.00" y="139.50" width="5.2" height="5.9" fill="#dee3e9"/>
<rect x="104.00" y="139.50" width="5.2" height="5.9" fill="#dee3e9"/>
<rect x="110.00" y="139.50" width="5.2" height="5.9" fill="#dee3e9"/>
<rect x="116.00" y="139.50" width="5.2" height="5.9" fill="#dee3e9"/>
<rect x="122.00" y="139.50" width="5.2" height="5.9" fill="#dee3e9"/>
<rect x="128.00" y="139.50" width="5.2" height="5.9" fill="#dee3e9"/>
<rect x="134.00" y="139.50" width="5.2" height="5.9" fill="#dee3e9"/>
<rect x="140.00" y="139.50" width="5.2" height="5.9" fill="#dee3e9"/>
<rect x="146.00" y="139.50" width="5.2" height="5.9" fill="#dee3e9"/>
<rect x="152.00" y="139.50" width="5.2" height="5.9" fill="#dee3e9"/>
<rect x="158.00" y="139.50" width="5.2" height="5.9" fill="#dee3e9"/>
<rect x="164.00" y="139.50" width="5.2" height="5.9" fill="#dee3e9"/>
<rect x="170.00" y="139.50" width="5.2" height="5.9" fill="#dee3e9"/>
<rect x="176.00" y="139.50" width="5.2" height="5.9" fill="#dee3e9"/>
<rect x="182.00" y="139.50" width="5.2" height="5.9" fill="#dee3e9"/>
<rect x="188.00" y="139.50" width="5.2" height="5.9" fill="#dee3e9"/>
<rect x="194.00" y="139.50" width="5.2" height="5.9" fill="#dee3e9"/>
<rect x="200.00" y="139.50" width="5.2" height="5.9" fill="#dee3e9"/>
<rect x="206.00" y="139.50" width="5.2" height="5.9" fill="#dee3e9"/>
<rect x="212.00" y="139.50" width="5.2" height="5.9" fill="#dee3e9"/>
<rect x="218.00" y="139.50" width="5.2" height="5.9" fill="#dee3e9"/>
<rect x="224.00" y="139.50" width="5.2" height="5.9" fill="#dee3e9"/>
<rect x="230.00" y="139.50" width="5.2" height="5.9" fill="#dee3e9"/>
<rect x="236.00" y="139.50" width="5.2" height="5.9" fill="#dee3e9"/>
<rect x="242.00" y="139.50" width="5.2" height="5.9" fill="#dee3e9"/>
<rect x="248.00" y="139.50" width="5.2" height="5.9" fill="#dee3e9"/>
<rect x="254.00" y="139.50" width="5.2" height="5.9" fill="#dee3e9"/>
<rect x="260.00" y="139.50" width="5.2" height="5.9" fill="#dee3e9"/>
<rect x="266.00" y="139.50" width="5.2" height="5.9" fill="#dee3e9"/>
<rect x="272.00" y="139.50" width="5.2" height="5.9" fill="#dee3e9"/>
<rect x="278.00" y="139.50" width="5.2" height="5.9" fill="#dee3e9"/>
<rect x="284.00" y="139.50" width="5.2" height="5.9" fill="#dee3e9"/>
<rect x="290.00" y="139.50" width="5.2" height="5.9" fill="#dee3e9"/>
<rect x="296.00" y="139.50" width="5.2" height="5.9" fill="#dee3e9"/>
<rect x="302.00" y="139.50" width="5.2" height="5.9" fill="#dee3e9"/>
<rect x="308.00" y="139.50" width="5.2" height="5.9" fill="#dee3e9"/>
<rect x="314.00" y="139.50" width="5.2" height="5.9" fill="#dee3e9"/>
<rect x="320.00" y="139.50" width="5.2" height="5.9" fill="#dee3e9"/>
<rect x="326.00" y="139.50" width="5.2" height="5.9" fill="#dee3e9"/>
<rect x="332.00" y="139.50" width="5.2" height="5.9" fill="#dee3e9"/>
<rect x="338.00" y="139.50" width="5.2" height="5.9" fill="#dee3e9"/>
<rect x="344.00" y="139.50" width="5.2" height="5.9" fill="#dee3e9"/>
<rect x="350.00" y="139.50" width="5.2" height="5.9" fill="#dee3e9"/>
<rect x="356.00" y="139.50" width="5.2" height="5.9" fill="#dee3e9"/>
<rect x="362.00" y="139.50" width="5.2" height="5.9" fill="#dee3e9"/>
<rect x="368.00" y="139.50" width="5.2" height="5.9" fill="#dee3e9"/>
<rect x="374.00" y="139.50" width="5.2" height="5.9" fill="#dee3e9"/>
<rect x="380.00" y="139.50" width="5.2" height="5.9" fill="#dee3e9"/>
<rect x="386.00" y="139.50" width="5.2" height="5.9" fill="#dee3e9"/>
<rect x="392.00" y="139.50" width="5.2" height="5.9" fill="#dee3e9"/>
<rect x="398.00" y="139.50" width="5.2" height="5.9" fill="#dee3e9"/>
<rect x="404.00" y="139.50" width="5.2" height="5.9" fill="#dee3e9"/>
<text transform="translate(41.40,144.70) scale(0.9,1)" font-size="6.8" text-anchor="end" fill="#3a3a3a" >CSF3</text>
<rect x="44.00" y="146.25" width="5.2" height="5.9" fill="#dee3e9"/>
<rect x="50.00" y="146.25" width="5.2" height="5.9" fill="#dee3e9"/>
<rect x="56.00" y="146.25" width="5.2" height="5.9" fill="#dee3e9"/>
<rect x="62.00" y="146.25" width="5.2" height="5.9" fill="#dee3e9"/>
<rect x="68.00" y="146.25" width="5.2" height="5.9" fill="#dee3e9"/>
<rect x="74.00" y="146.25" width="5.2" height="5.9" fill="#dee3e9"/>
<rect x="80.00" y="146.25" width="5.2" height="5.9" fill="#dee3e9"/>
<rect x="86.00" y="146.25" width="5.2" height="5.9" fill="#dee3e9"/>
<rect x="92.00" y="146.25" width="5.2" height="5.9" fill="#dee3e9"/>
<rect x="98.00" y="146.25" width="5.2" height="5.9" fill="#dee3e9"/>
<rect x="104.00" y="146.25" width="5.2" height="5.9" fill="#dee3e9"/>
<rect x="110.00" y="146.25" width="5.2" height="5.9" fill="#dee3e9"/>
<rect x="116.00" y="146.25" width="5.2" height="5.9" fill="#dee3e9"/>
<rect x="122.00" y="146.25" width="5.2" height="5.9" fill="#dee3e9"/>
<rect x="128.00" y="146.25" width="5.2" height="5.9" fill="#dee3e9"/>
<rect x="134.00" y="146.25" width="5.2" height="5.9" fill="#dee3e9"/>
<rect x="140.00" y="146.25" width="5.2" height="5.9" fill="#dee3e9"/>
<rect x="146.00" y="146.25" width="5.2" height="5.9" fill="#dee3e9"/>
<rect x="152.00" y="146.25" width="5.2" height="5.9" fill="#dee3e9"/>
<rect x="158.00" y="146.25" width="5.2" height="5.9" fill="#dee3e9"/>
<rect x="164.00" y="146.25" width="5.2" height="5.9" fill="#dee3e9"/>
<rect x="170.00" y="146.25" width="5.2" height="5.9" fill="#dee3e9"/>
<rect x="176.00" y="146.25" width="5.2" height="5.9" fill="#dee3e9"/>
<rect x="182.00" y="146.25" width="5.2" height="5.9" fill="#dee3e9"/>
<rect x="188.00" y="146.25" width="5.2" height="5.9" fill="#dee3e9"/>
<rect x="194.00" y="146.25" width="5.2" height="5.9" fill="#dee3e9"/>
<rect x="200.00" y="146.25" width="5.2" height="5.9" fill="#dee3e9"/>
<rect x="206.00" y="146.25" width="5.2" height="5.9" fill="#dee3e9"/>
<rect x="212.00" y="146.25" width="5.2" height="5.9" fill="#dee3e9"/>
<rect x="218.00" y="146.25" width="5.2" height="5.9" fill="#dee3e9"/>
<rect x="224.00" y="146.25" width="5.2" height="5.9" fill="#dee3e9"/>
<rect x="230.00" y="146.25" width="5.2" height="5.9" fill="#dee3e9"/>
<rect x="236.00" y="146.25" width="5.2" height="5.9" fill="#dee3e9"/>
<rect x="242.00" y="146.25" width="5.2" height="5.9" fill="#dee3e9"/>
<rect x="248.00" y="146.25" width="5.2" height="5.9" fill="#dee3e9"/>
<rect x="254.00" y="146.25" width="5.2" height="5.9" fill="#dee3e9"/>
<rect x="260.00" y="146.25" width="5.2" height="5.9" fill="#dee3e9"/>
<rect x="266.00" y="146.25" width="5.2" height="5.9" fill="#dee3e9"/>
<rect x="272.00" y="146.25" width="5.2" height="5.9" fill="#dee3e9"/>
<rect x="278.00" y="146.25" width="5.2" height="5.9" fill="#dee3e9"/>
<rect x="284.00" y="146.25" width="5.2" height="5.9" fill="#dee3e9"/>
<rect x="290.00" y="146.25" width="5.2" height="5.9" fill="#dee3e9"/>
<rect x="296.00" y="146.25" width="5.2" height="5.9" fill="#dee3e9"/>
<rect x="302.00" y="146.25" width="5.2" height="5.9" fill="#dee3e9"/>
<rect x="308.00" y="146.25" width="5.2" height="5.9" fill="#dee3e9"/>
<rect x="314.00" y="146.25" width="5.2" height="5.9" fill="#dee3e9"/>
<rect x="320.00" y="146.25" width="5.2" height="5.9" fill="#dee3e9"/>
<rect x="326.00" y="146.25" width="5.2" height="5.9" fill="#dee3e9"/>
<rect x="332.00" y="146.25" width="5.2" height="5.9" fill="#dee3e9"/>
<rect x="338.00" y="146.25" width="5.2" height="5.9" fill="#dee3e9"/>
<rect x="344.00" y="146.25" width="5.2" height="5.9" fill="#dee3e9"/>
<rect x="350.00" y="146.25" width="5.2" height="5.9" fill="#dee3e9"/>
<rect x="356.00" y="146.25" width="5.2" height="5.9" fill="#dee3e9"/>
<rect x="362.00" y="146.25" width="5.2" height="5.9" fill="#dee3e9"/>
<rect x="368.00" y="146.25" width="5.2" height="5.9" fill="#dee3e9"/>
<rect x="374.00" y="146.25" width="5.2" height="5.9" fill="#dee3e9"/>
<rect x="380.00" y="146.25" width="5.2" height="5.9" fill="#dee3e9"/>
<rect x="386.00" y="146.25" width="5.2" height="5.9" fill="#dee3e9"/>
<rect x="392.00" y="146.25" width="5.2" height="5.9" fill="#dee3e9"/>
<rect x="398.00" y="146.25" width="5.2" height="5.9" fill="#dee3e9"/>
<rect x="404.00" y="146.25" width="5.2" height="5.9" fill="#dee3e9"/>
<text transform="translate(41.40,151.45) scale(0.9,1)" font-size="6.8" text-anchor="end" fill="#3a3a3a" font-style="italic">MITF</text>
<rect x="44.00" y="153.00" width="5.2" height="5.9" fill="#dee3e9"/>
<rect x="50.00" y="153.00" width="5.2" height="5.9" fill="#dee3e9"/>
<rect x="56.00" y="153.00" width="5.2" height="5.9" fill="#dee3e9"/>
<rect x="62.00" y="153.00" width="5.2" height="5.9" fill="#dee3e9"/>
<rect x="68.00" y="153.00" width="5.2" height="5.9" fill="#dee3e9"/>
<rect x="74.00" y="153.00" width="5.2" height="5.9" fill="#dee3e9"/>
<rect x="80.00" y="153.00" width="5.2" height="5.9" fill="#dee3e9"/>
<rect x="86.00" y="153.00" width="5.2" height="5.9" fill="#dee3e9"/>
<rect x="92.00" y="153.00" width="5.2" height="5.9" fill="#dee3e9"/>
<rect x="98.00" y="153.00" width="5.2" height="5.9" fill="#dee3e9"/>
<rect x="104.00" y="153.00" width="5.2" height="5.9" fill="#dee3e9"/>
<rect x="110.00" y="153.00" width="5.2" height="5.9" fill="#dee3e9"/>
<rect x="116.00" y="153.00" width="5.2" height="5.9" fill="#dee3e9"/>
<rect x="122.00" y="153.00" width="5.2" height="5.9" fill="#dee3e9"/>
<rect x="128.00" y="153.00" width="5.2" height="5.9" fill="#dee3e9"/>
<rect x="134.00" y="153.00" width="5.2" height="5.9" fill="#dee3e9"/>
<rect x="140.00" y="153.00" width="5.2" height="5.9" fill="#dee3e9"/>
<rect x="146.00" y="153.00" width="5.2" height="5.9" fill="#dee3e9"/>
<rect x="152.00" y="153.00" width="5.2" height="5.9" fill="#dee3e9"/>
<rect x="158.00" y="153.00" width="5.2" height="5.9" fill="#dee3e9"/>
<rect x="164.00" y="153.00" width="5.2" height="5.9" fill="#dee3e9"/>
<rect x="170.00" y="153.00" width="5.2" height="5.9" fill="#dee3e9"/>
<rect x="176.00" y="153.00" width="5.2" height="5.9" fill="#dee3e9"/>
<rect x="182.00" y="153.00" width="5.2" height="5.9" fill="#dee3e9"/>
<rect x="188.00" y="153.00" width="5.2" height="5.9" fill="#dee3e9"/>
<rect x="194.00" y="153.00" width="5.2" height="5.9" fill="#dee3e9"/>
<rect x="200.00" y="153.00" width="5.2" height="5.9" fill="#dee3e9"/>
<rect x="206.00" y="153.00" width="5.2" height="5.9" fill="#dee3e9"/>
<rect x="212.00" y="153.00" width="5.2" height="5.9" fill="#dee3e9"/>
<rect x="218.00" y="153.00" width="5.2" height="5.9" fill="#dee3e9"/>
<rect x="224.00" y="153.00" width="5.2" height="5.9" fill="#dee3e9"/>
<rect x="230.00" y="153.00" width="5.2" height="5.9" fill="#dee3e9"/>
<rect x="236.00" y="153.00" width="5.2" height="5.9" fill="#dee3e9"/>
<rect x="242.00" y="153.00" width="5.2" height="5.9" fill="#dee3e9"/>
<rect x="248.00" y="153.00" width="5.2" height="5.9" fill="#dee3e9"/>
<rect x="254.00" y="153.00" width="5.2" height="5.9" fill="#dee3e9"/>
<rect x="260.00" y="153.00" width="5.2" height="5.9" fill="#dee3e9"/>
<rect x="266.00" y="153.00" width="5.2" height="5.9" fill="#dee3e9"/>
<rect x="272.00" y="153.00" width="5.2" height="5.9" fill="#dee3e9"/>
<rect x="278.00" y="153.00" width="5.2" height="5.9" fill="#dee3e9"/>
<rect x="284.00" y="153.00" width="5.2" height="5.9" fill="#dee3e9"/>
<rect x="290.00" y="153.00" width="5.2" height="5.9" fill="#dee3e9"/>
<rect x="296.00" y="153.00" width="5.2" height="5.9" fill="#dee3e9"/>
<rect x="302.00" y="153.00" width="5.2" height="5.9" fill="#dee3e9"/>
<rect x="308.00" y="153.00" width="5.2" height="5.9" fill="#dee3e9"/>
<rect x="314.00" y="153.00" width="5.2" height="5.9" fill="#dee3e9"/>
<rect x="320.00" y="153.00" width="5.2" height="5.9" fill="#dee3e9"/>
<rect x="326.00" y="153.00" width="5.2" height="5.9" fill="#dee3e9"/>
<rect x="332.00" y="153.00" width="5.2" height="5.9" fill="#dee3e9"/>
<rect x="338.00" y="153.00" width="5.2" height="5.9" fill="#dee3e9"/>
<rect x="344.00" y="153.00" width="5.2" height="5.9" fill="#dee3e9"/>
<rect x="350.00" y="153.00" width="5.2" height="5.9" fill="#dee3e9"/>
<rect x="356.00" y="153.00" width="5.2" height="5.9" fill="#dee3e9"/>
<rect x="362.00" y="153.00" width="5.2" height="5.9" fill="#dee3e9"/>
<rect x="368.00" y="153.00" width="5.2" height="5.9" fill="#dee3e9"/>
<rect x="374.00" y="153.00" width="5.2" height="5.9" fill="#dee3e9"/>
<rect x="380.00" y="153.00" width="5.2" height="5.9" fill="#dee3e9"/>
<rect x="386.00" y="153.00" width="5.2" height="5.9" fill="#dee3e9"/>
<rect x="392.00" y="153.00" width="5.2" height="5.9" fill="#dee3e9"/>
<rect x="398.00" y="153.00" width="5.2" height="5.9" fill="#dee3e9"/>
<rect x="404.00" y="153.00" width="5.2" height="5.9" fill="#dee3e9"/>
<text transform="translate(41.40,158.20) scale(0.9,1)" font-size="6.8" text-anchor="end" fill="#3a3a3a" font-style="italic">PLEK</text>
<rect x="44.00" y="159.75" width="5.2" height="5.9" fill="#dee3e9"/>
<rect x="50.00" y="159.75" width="5.2" height="5.9" fill="#dee3e9"/>
<rect x="56.00" y="159.75" width="5.2" height="5.9" fill="#dee3e9"/>
<rect x="62.00" y="159.75" width="5.2" height="5.9" fill="#dee3e9"/>
<rect x="68.00" y="159.75" width="5.2" height="5.9" fill="#dee3e9"/>
<rect x="74.00" y="159.75" width="5.2" height="5.9" fill="#dee3e9"/>
<rect x="80.00" y="159.75" width="5.2" height="5.9" fill="#dee3e9"/>
<rect x="86.00" y="159.75" width="5.2" height="5.9" fill="#dee3e9"/>
<rect x="92.00" y="159.75" width="5.2" height="5.9" fill="#dee3e9"/>
<rect x="98.00" y="159.75" width="5.2" height="5.9" fill="#dee3e9"/>
<rect x="104.00" y="159.75" width="5.2" height="5.9" fill="#dee3e9"/>
<rect x="110.00" y="159.75" width="5.2" height="5.9" fill="#dee3e9"/>
<rect x="116.00" y="159.75" width="5.2" height="5.9" fill="#dee3e9"/>
<rect x="122.00" y="159.75" width="5.2" height="5.9" fill="#dee3e9"/>
<rect x="128.00" y="159.75" width="5.2" height="5.9" fill="#dee3e9"/>
<rect x="134.00" y="159.75" width="5.2" height="5.9" fill="#dee3e9"/>
<rect x="140.00" y="159.75" width="5.2" height="5.9" fill="#dee3e9"/>
<rect x="146.00" y="159.75" width="5.2" height="5.9" fill="#dee3e9"/>
<rect x="152.00" y="159.75" width="5.2" height="5.9" fill="#dee3e9"/>
<rect x="158.00" y="159.75" width="5.2" height="5.9" fill="#dee3e9"/>
<rect x="164.00" y="159.75" width="5.2" height="5.9" fill="#dee3e9"/>
<rect x="170.00" y="159.75" width="5.2" height="5.9" fill="#dee3e9"/>
<rect x="176.00" y="159.75" width="5.2" height="5.9" fill="#dee3e9"/>
<rect x="182.00" y="159.75" width="5.2" height="5.9" fill="#dee3e9"/>
<rect x="188.00" y="159.75" width="5.2" height="5.9" fill="#dee3e9"/>
<rect x="194.00" y="159.75" width="5.2" height="5.9" fill="#dee3e9"/>
<rect x="200.00" y="159.75" width="5.2" height="5.9" fill="#dee3e9"/>
<rect x="206.00" y="159.75" width="5.2" height="5.9" fill="#dee3e9"/>
<rect x="212.00" y="159.75" width="5.2" height="5.9" fill="#dee3e9"/>
<rect x="218.00" y="159.75" width="5.2" height="5.9" fill="#dee3e9"/>
<rect x="224.00" y="159.75" width="5.2" height="5.9" fill="#dee3e9"/>
<rect x="230.00" y="159.75" width="5.2" height="5.9" fill="#dee3e9"/>
<rect x="236.00" y="159.75" width="5.2" height="5.9" fill="#dee3e9"/>
<rect x="242.00" y="159.75" width="5.2" height="5.9" fill="#dee3e9"/>
<rect x="248.00" y="159.75" width="5.2" height="5.9" fill="#dee3e9"/>
<rect x="254.00" y="159.75" width="5.2" height="5.9" fill="#dee3e9"/>
<rect x="260.00" y="159.75" width="5.2" height="5.9" fill="#dee3e9"/>
<rect x="266.00" y="159.75" width="5.2" height="5.9" fill="#dee3e9"/>
<rect x="272.00" y="159.75" width="5.2" height="5.9" fill="#dee3e9"/>
<rect x="278.00" y="159.75" width="5.2" height="5.9" fill="#dee3e9"/>
<rect x="284.00" y="159.75" width="5.2" height="5.9" fill="#dee3e9"/>
<rect x="290.00" y="159.75" width="5.2" height="5.9" fill="#dee3e9"/>
<rect x="296.00" y="159.75" width="5.2" height="5.9" fill="#dee3e9"/>
<rect x="302.00" y="159.75" width="5.2" height="5.9" fill="#dee3e9"/>
<rect x="308.00" y="159.75" width="5.2" height="5.9" fill="#dee3e9"/>
<rect x="314.00" y="159.75" width="5.2" height="5.9" fill="#dee3e9"/>
<rect x="320.00" y="159.75" width="5.2" height="5.9" fill="#dee3e9"/>
<rect x="326.00" y="159.75" width="5.2" height="5.9" fill="#dee3e9"/>
<rect x="332.00" y="159.75" width="5.2" height="5.9" fill="#dee3e9"/>
<rect x="338.00" y="159.75" width="5.2" height="5.9" fill="#dee3e9"/>
<rect x="344.00" y="159.75" width="5.2" height="5.9" fill="#dee3e9"/>
<rect x="350.00" y="159.75" width="5.2" height="5.9" fill="#dee3e9"/>
<rect x="356.00" y="159.75" width="5.2" height="5.9" fill="#dee3e9"/>
<rect x="362.00" y="159.75" width="5.2" height="5.9" fill="#dee3e9"/>
<rect x="368.00" y="159.75" width="5.2" height="5.9" fill="#dee3e9"/>
<rect x="374.00" y="159.75" width="5.2" height="5.9" fill="#dee3e9"/>
<rect x="380.00" y="159.75" width="5.2" height="5.9" fill="#dee3e9"/>
<rect x="386.00" y="159.75" width="5.2" height="5.9" fill="#dee3e9"/>
<rect x="392.00" y="159.75" width="5.2" height="5.9" fill="#dee3e9"/>
<rect x="398.00" y="159.75" width="5.2" height="5.9" fill="#dee3e9"/>
<rect x="404.00" y="159.75" width="5.2" height="5.9" fill="#dee3e9"/>
<text transform="translate(41.40,164.95) scale(0.9,1)" font-size="6.8" text-anchor="end" fill="#3a3a3a" font-style="italic">FGFR3</text>
<rect x="44.00" y="166.50" width="5.2" height="5.9" fill="#dee3e9"/>
<rect x="50.00" y="166.50" width="5.2" height="5.9" fill="#dee3e9"/>
<rect x="56.00" y="166.50" width="5.2" height="5.9" fill="#dee3e9"/>
<rect x="62.00" y="166.50" width="5.2" height="5.9" fill="#dee3e9"/>
<rect x="68.00" y="166.50" width="5.2" height="5.9" fill="#dee3e9"/>
<rect x="74.00" y="166.50" width="5.2" height="5.9" fill="#dee3e9"/>
<rect x="80.00" y="166.50" width="5.2" height="5.9" fill="#dee3e9"/>
<rect x="86.00" y="166.50" width="5.2" height="5.9" fill="#dee3e9"/>
<rect x="92.00" y="166.50" width="5.2" height="5.9" fill="#dee3e9"/>
<rect x="98.00" y="166.50" width="5.2" height="5.9" fill="#dee3e9"/>
<rect x="104.00" y="166.50" width="5.2" height="5.9" fill="#dee3e9"/>
<rect x="110.00" y="166.50" width="5.2" height="5.9" fill="#dee3e9"/>
<rect x="116.00" y="166.50" width="5.2" height="5.9" fill="#dee3e9"/>
<rect x="122.00" y="166.50" width="5.2" height="5.9" fill="#dee3e9"/>
<rect x="128.00" y="166.50" width="5.2" height="5.9" fill="#dee3e9"/>
<rect x="134.00" y="166.50" width="5.2" height="5.9" fill="#dee3e9"/>
<rect x="140.00" y="166.50" width="5.2" height="5.9" fill="#dee3e9"/>
<rect x="146.00" y="166.50" width="5.2" height="5.9" fill="#dee3e9"/>
<rect x="152.00" y="166.50" width="5.2" height="5.9" fill="#dee3e9"/>
<rect x="158.00" y="166.50" width="5.2" height="5.9" fill="#dee3e9"/>
<rect x="164.00" y="166.50" width="5.2" height="5.9" fill="#dee3e9"/>
<rect x="170.00" y="166.50" width="5.2" height="5.9" fill="#dee3e9"/>
<rect x="176.00" y="166.50" width="5.2" height="5.9" fill="#dee3e9"/>
<rect x="182.00" y="166.50" width="5.2" height="5.9" fill="#dee3e9"/>
<rect x="188.00" y="166.50" width="5.2" height="5.9" fill="#dee3e9"/>
<rect x="194.00" y="166.50" width="5.2" height="5.9" fill="#dee3e9"/>
<rect x="200.00" y="166.50" width="5.2" height="5.9" fill="#dee3e9"/>
<rect x="206.00" y="166.50" width="5.2" height="5.9" fill="#dee3e9"/>
<rect x="212.00" y="166.50" width="5.2" height="5.9" fill="#dee3e9"/>
<rect x="218.00" y="166.50" width="5.2" height="5.9" fill="#dee3e9"/>
<rect x="224.00" y="166.50" width="5.2" height="5.9" fill="#dee3e9"/>
<rect x="230.00" y="166.50" width="5.2" height="5.9" fill="#dee3e9"/>
<rect x="236.00" y="166.50" width="5.2" height="5.9" fill="#dee3e9"/>
<rect x="242.00" y="166.50" width="5.2" height="5.9" fill="#dee3e9"/>
<rect x="248.00" y="166.50" width="5.2" height="5.9" fill="#dee3e9"/>
<rect x="254.00" y="166.50" width="5.2" height="5.9" fill="#dee3e9"/>
<rect x="260.00" y="166.50" width="5.2" height="5.9" fill="#dee3e9"/>
<rect x="266.00" y="166.50" width="5.2" height="5.9" fill="#dee3e9"/>
<rect x="272.00" y="166.50" width="5.2" height="5.9" fill="#dee3e9"/>
<rect x="278.00" y="166.50" width="5.2" height="5.9" fill="#dee3e9"/>
<rect x="284.00" y="166.50" width="5.2" height="5.9" fill="#dee3e9"/>
<rect x="290.00" y="166.50" width="5.2" height="5.9" fill="#dee3e9"/>
<rect x="296.00" y="166.50" width="5.2" height="5.9" fill="#dee3e9"/>
<rect x="302.00" y="166.50" width="5.2" height="5.9" fill="#dee3e9"/>
<rect x="308.00" y="166.50" width="5.2" height="5.9" fill="#dee3e9"/>
<rect x="314.00" y="166.50" width="5.2" height="5.9" fill="#dee3e9"/>
<rect x="320.00" y="166.50" width="5.2" height="5.9" fill="#dee3e9"/>
<rect x="326.00" y="166.50" width="5.2" height="5.9" fill="#dee3e9"/>
<rect x="332.00" y="166.50" width="5.2" height="5.9" fill="#dee3e9"/>
<rect x="338.00" y="166.50" width="5.2" height="5.9" fill="#dee3e9"/>
<rect x="344.00" y="166.50" width="5.2" height="5.9" fill="#dee3e9"/>
<rect x="350.00" y="166.50" width="5.2" height="5.9" fill="#dee3e9"/>
<rect x="356.00" y="166.50" width="5.2" height="5.9" fill="#dee3e9"/>
<rect x="362.00" y="166.50" width="5.2" height="5.9" fill="#dee3e9"/>
<rect x="368.00" y="166.50" width="5.2" height="5.9" fill="#dee3e9"/>
<rect x="374.00" y="166.50" width="5.2" height="5.9" fill="#dee3e9"/>
<rect x="380.00" y="166.50" width="5.2" height="5.9" fill="#dee3e9"/>
<rect x="386.00" y="166.50" width="5.2" height="5.9" fill="#dee3e9"/>
<rect x="392.00" y="166.50" width="5.2" height="5.9" fill="#dee3e9"/>
<rect x="398.00" y="166.50" width="5.2" height="5.9" fill="#dee3e9"/>
<rect x="404.00" y="166.50" width="5.2" height="5.9" fill="#dee3e9"/>
<text transform="translate(41.40,171.70) scale(0.9,1)" font-size="6.8" text-anchor="end" fill="#3a3a3a" font-style="italic">FGG</text>
<rect x="44.00" y="173.25" width="5.2" height="5.9" fill="#dee3e9"/>
<rect x="50.00" y="173.25" width="5.2" height="5.9" fill="#dee3e9"/>
<rect x="56.00" y="173.25" width="5.2" height="5.9" fill="#dee3e9"/>
<rect x="62.00" y="173.25" width="5.2" height="5.9" fill="#dee3e9"/>
<rect x="68.00" y="173.25" width="5.2" height="5.9" fill="#dee3e9"/>
<rect x="74.00" y="173.25" width="5.2" height="5.9" fill="#dee3e9"/>
<rect x="80.00" y="173.25" width="5.2" height="5.9" fill="#dee3e9"/>
<rect x="86.00" y="173.25" width="5.2" height="5.9" fill="#dee3e9"/>
<rect x="92.00" y="173.25" width="5.2" height="5.9" fill="#dee3e9"/>
<rect x="98.00" y="173.25" width="5.2" height="5.9" fill="#dee3e9"/>
<rect x="104.00" y="173.25" width="5.2" height="5.9" fill="#dee3e9"/>
<rect x="110.00" y="173.25" width="5.2" height="5.9" fill="#dee3e9"/>
<rect x="116.00" y="173.25" width="5.2" height="5.9" fill="#dee3e9"/>
<rect x="122.00" y="173.25" width="5.2" height="5.9" fill="#dee3e9"/>
<rect x="128.00" y="173.25" width="5.2" height="5.9" fill="#dee3e9"/>
<rect x="134.00" y="173.25" width="5.2" height="5.9" fill="#dee3e9"/>
<rect x="140.00" y="173.25" width="5.2" height="5.9" fill="#dee3e9"/>
<rect x="146.00" y="173.25" width="5.2" height="5.9" fill="#dee3e9"/>
<rect x="152.00" y="173.25" width="5.2" height="5.9" fill="#dee3e9"/>
<rect x="158.00" y="173.25" width="5.2" height="5.9" fill="#dee3e9"/>
<rect x="164.00" y="173.25" width="5.2" height="5.9" fill="#dee3e9"/>
<rect x="170.00" y="173.25" width="5.2" height="5.9" fill="#dee3e9"/>
<rect x="176.00" y="173.25" width="5.2" height="5.9" fill="#dee3e9"/>
<rect x="182.00" y="173.25" width="5.2" height="5.9" fill="#dee3e9"/>
<rect x="188.00" y="173.25" width="5.2" height="5.9" fill="#dee3e9"/>
<rect x="194.00" y="173.25" width="5.2" height="5.9" fill="#dee3e9"/>
<rect x="200.00" y="173.25" width="5.2" height="5.9" fill="#dee3e9"/>
<rect x="206.00" y="173.25" width="5.2" height="5.9" fill="#dee3e9"/>
<rect x="212.00" y="173.25" width="5.2" height="5.9" fill="#dee3e9"/>
<rect x="218.00" y="173.25" width="5.2" height="5.9" fill="#dee3e9"/>
<rect x="224.00" y="173.25" width="5.2" height="5.9" fill="#dee3e9"/>
<rect x="230.00" y="173.25" width="5.2" height="5.9" fill="#dee3e9"/>
<rect x="236.00" y="173.25" width="5.2" height="5.9" fill="#dee3e9"/>
<rect x="242.00" y="173.25" width="5.2" height="5.9" fill="#dee3e9"/>
<rect x="248.00" y="173.25" width="5.2" height="5.9" fill="#dee3e9"/>
<rect x="254.00" y="173.25" width="5.2" height="5.9" fill="#dee3e9"/>
<rect x="260.00" y="173.25" width="5.2" height="5.9" fill="#dee3e9"/>
<rect x="266.00" y="173.25" width="5.2" height="5.9" fill="#dee3e9"/>
<rect x="272.00" y="173.25" width="5.2" height="5.9" fill="#dee3e9"/>
<rect x="278.00" y="173.25" width="5.2" height="5.9" fill="#dee3e9"/>
<rect x="284.00" y="173.25" width="5.2" height="5.9" fill="#dee3e9"/>
<rect x="290.00" y="173.25" width="5.2" height="5.9" fill="#dee3e9"/>
<rect x="296.00" y="173.25" width="5.2" height="5.9" fill="#dee3e9"/>
<rect x="302.00" y="173.25" width="5.2" height="5.9" fill="#dee3e9"/>
<rect x="308.00" y="173.25" width="5.2" height="5.9" fill="#dee3e9"/>
<rect x="314.00" y="173.25" width="5.2" height="5.9" fill="#dee3e9"/>
<rect x="320.00" y="173.25" width="5.2" height="5.9" fill="#dee3e9"/>
<rect x="326.00" y="173.25" width="5.2" height="5.9" fill="#dee3e9"/>
<rect x="332.00" y="173.25" width="5.2" height="5.9" fill="#dee3e9"/>
<rect x="338.00" y="173.25" width="5.2" height="5.9" fill="#dee3e9"/>
<rect x="344.00" y="173.25" width="5.2" height="5.9" fill="#dee3e9"/>
<rect x="350.00" y="173.25" width="5.2" height="5.9" fill="#dee3e9"/>
<rect x="356.00" y="173.25" width="5.2" height="5.9" fill="#dee3e9"/>
<rect x="362.00" y="173.25" width="5.2" height="5.9" fill="#dee3e9"/>
<rect x="368.00" y="173.25" width="5.2" height="5.9" fill="#dee3e9"/>
<rect x="374.00" y="173.25" width="5.2" height="5.9" fill="#dee3e9"/>
<rect x="380.00" y="173.25" width="5.2" height="5.9" fill="#dee3e9"/>
<rect x="386.00" y="173.25" width="5.2" height="5.9" fill="#dee3e9"/>
<rect x="392.00" y="173.25" width="5.2" height="5.9" fill="#dee3e9"/>
<rect x="398.00" y="173.25" width="5.2" height="5.9" fill="#dee3e9"/>
<rect x="404.00" y="173.25" width="5.2" height="5.9" fill="#dee3e9"/>
<text transform="translate(41.40,178.45) scale(0.9,1)" font-size="6.8" text-anchor="end" fill="#3a3a3a" font-style="italic">JAG1</text>
<rect x="44.00" y="180.00" width="5.2" height="5.9" fill="#dee3e9"/>
<rect x="50.00" y="180.00" width="5.2" height="5.9" fill="#dee3e9"/>
<rect x="56.00" y="180.00" width="5.2" height="5.9" fill="#dee3e9"/>
<rect x="62.00" y="180.00" width="5.2" height="5.9" fill="#dee3e9"/>
<rect x="68.00" y="180.00" width="5.2" height="5.9" fill="#dee3e9"/>
<rect x="74.00" y="180.00" width="5.2" height="5.9" fill="#dee3e9"/>
<rect x="80.00" y="180.00" width="5.2" height="5.9" fill="#dee3e9"/>
<rect x="86.00" y="180.00" width="5.2" height="5.9" fill="#dee3e9"/>
<rect x="92.00" y="180.00" width="5.2" height="5.9" fill="#dee3e9"/>
<rect x="98.00" y="180.00" width="5.2" height="5.9" fill="#dee3e9"/>
<rect x="104.00" y="180.00" width="5.2" height="5.9" fill="#dee3e9"/>
<rect x="110.00" y="180.00" width="5.2" height="5.9" fill="#dee3e9"/>
<rect x="116.00" y="180.00" width="5.2" height="5.9" fill="#dee3e9"/>
<rect x="122.00" y="180.00" width="5.2" height="5.9" fill="#dee3e9"/>
<rect x="128.00" y="180.00" width="5.2" height="5.9" fill="#dee3e9"/>
<rect x="134.00" y="180.00" width="5.2" height="5.9" fill="#dee3e9"/>
<rect x="140.00" y="180.00" width="5.2" height="5.9" fill="#dee3e9"/>
<rect x="146.00" y="180.00" width="5.2" height="5.9" fill="#dee3e9"/>
<rect x="152.00" y="180.00" width="5.2" height="5.9" fill="#dee3e9"/>
<rect x="158.00" y="180.00" width="5.2" height="5.9" fill="#dee3e9"/>
<rect x="164.00" y="180.00" width="5.2" height="5.9" fill="#dee3e9"/>
<rect x="170.00" y="180.00" width="5.2" height="5.9" fill="#dee3e9"/>
<rect x="176.00" y="180.00" width="5.2" height="5.9" fill="#dee3e9"/>
<rect x="182.00" y="180.00" width="5.2" height="5.9" fill="#dee3e9"/>
<rect x="188.00" y="180.00" width="5.2" height="5.9" fill="#dee3e9"/>
<rect x="194.00" y="180.00" width="5.2" height="5.9" fill="#dee3e9"/>
<rect x="200.00" y="180.00" width="5.2" height="5.9" fill="#dee3e9"/>
<rect x="206.00" y="180.00" width="5.2" height="5.9" fill="#dee3e9"/>
<rect x="212.00" y="180.00" width="5.2" height="5.9" fill="#dee3e9"/>
<rect x="218.00" y="180.00" width="5.2" height="5.9" fill="#dee3e9"/>
<rect x="224.00" y="180.00" width="5.2" height="5.9" fill="#dee3e9"/>
<rect x="230.00" y="180.00" width="5.2" height="5.9" fill="#dee3e9"/>
<rect x="236.00" y="180.00" width="5.2" height="5.9" fill="#dee3e9"/>
<rect x="242.00" y="180.00" width="5.2" height="5.9" fill="#dee3e9"/>
<rect x="248.00" y="180.00" width="5.2" height="5.9" fill="#dee3e9"/>
<rect x="254.00" y="180.00" width="5.2" height="5.9" fill="#dee3e9"/>
<rect x="260.00" y="180.00" width="5.2" height="5.9" fill="#dee3e9"/>
<rect x="266.00" y="180.00" width="5.2" height="5.9" fill="#dee3e9"/>
<rect x="272.00" y="180.00" width="5.2" height="5.9" fill="#dee3e9"/>
<rect x="278.00" y="180.00" width="5.2" height="5.9" fill="#dee3e9"/>
<rect x="284.00" y="180.00" width="5.2" height="5.9" fill="#dee3e9"/>
<rect x="290.00" y="180.00" width="5.2" height="5.9" fill="#dee3e9"/>
<rect x="296.00" y="180.00" width="5.2" height="5.9" fill="#dee3e9"/>
<rect x="302.00" y="180.00" width="5.2" height="5.9" fill="#dee3e9"/>
<rect x="308.00" y="180.00" width="5.2" height="5.9" fill="#dee3e9"/>
<rect x="314.00" y="180.00" width="5.2" height="5.9" fill="#dee3e9"/>
<rect x="320.00" y="180.00" width="5.2" height="5.9" fill="#dee3e9"/>
<rect x="326.00" y="180.00" width="5.2" height="5.9" fill="#dee3e9"/>
<rect x="332.00" y="180.00" width="5.2" height="5.9" fill="#dee3e9"/>
<rect x="338.00" y="180.00" width="5.2" height="5.9" fill="#dee3e9"/>
<rect x="344.00" y="180.00" width="5.2" height="5.9" fill="#dee3e9"/>
<rect x="350.00" y="180.00" width="5.2" height="5.9" fill="#dee3e9"/>
<rect x="356.00" y="180.00" width="5.2" height="5.9" fill="#dee3e9"/>
<rect x="362.00" y="180.00" width="5.2" height="5.9" fill="#dee3e9"/>
<rect x="368.00" y="180.00" width="5.2" height="5.9" fill="#dee3e9"/>
<rect x="374.00" y="180.00" width="5.2" height="5.9" fill="#dee3e9"/>
<rect x="380.00" y="180.00" width="5.2" height="5.9" fill="#dee3e9"/>
<rect x="386.00" y="180.00" width="5.2" height="5.9" fill="#dee3e9"/>
<rect x="392.00" y="180.00" width="5.2" height="5.9" fill="#dee3e9"/>
<rect x="398.00" y="180.00" width="5.2" height="5.9" fill="#dee3e9"/>
<rect x="404.00" y="180.00" width="5.2" height="5.9" fill="#dee3e9"/>
<text transform="translate(41.40,185.20) scale(0.9,1)" font-size="6.8" text-anchor="end" fill="#3a3a3a" font-style="italic">SPTA1</text>
<rect x="44.00" y="186.75" width="5.2" height="5.9" fill="#dee3e9"/>
<rect x="50.00" y="186.75" width="5.2" height="5.9" fill="#dee3e9"/>
<rect x="56.00" y="186.75" width="5.2" height="5.9" fill="#dee3e9"/>
<rect x="62.00" y="186.75" width="5.2" height="5.9" fill="#dee3e9"/>
<rect x="68.00" y="186.75" width="5.2" height="5.9" fill="#dee3e9"/>
<rect x="74.00" y="186.75" width="5.2" height="5.9" fill="#dee3e9"/>
<rect x="80.00" y="186.75" width="5.2" height="5.9" fill="#dee3e9"/>
<rect x="86.00" y="186.75" width="5.2" height="5.9" fill="#dee3e9"/>
<rect x="92.00" y="186.75" width="5.2" height="5.9" fill="#dee3e9"/>
<rect x="98.00" y="186.75" width="5.2" height="5.9" fill="#dee3e9"/>
<rect x="104.00" y="186.75" width="5.2" height="5.9" fill="#dee3e9"/>
<rect x="110.00" y="186.75" width="5.2" height="5.9" fill="#dee3e9"/>
<rect x="116.00" y="186.75" width="5.2" height="5.9" fill="#dee3e9"/>
<rect x="122.00" y="186.75" width="5.2" height="5.9" fill="#dee3e9"/>
<rect x="128.00" y="186.75" width="5.2" height="5.9" fill="#dee3e9"/>
<rect x="134.00" y="186.75" width="5.2" height="5.9" fill="#dee3e9"/>
<rect x="140.00" y="186.75" width="5.2" height="5.9" fill="#dee3e9"/>
<rect x="146.00" y="186.75" width="5.2" height="5.9" fill="#dee3e9"/>
<rect x="152.00" y="186.75" width="5.2" height="5.9" fill="#dee3e9"/>
<rect x="158.00" y="186.75" width="5.2" height="5.9" fill="#dee3e9"/>
<rect x="164.00" y="186.75" width="5.2" height="5.9" fill="#dee3e9"/>
<rect x="170.00" y="186.75" width="5.2" height="5.9" fill="#dee3e9"/>
<rect x="176.00" y="186.75" width="5.2" height="5.9" fill="#dee3e9"/>
<rect x="182.00" y="186.75" width="5.2" height="5.9" fill="#dee3e9"/>
<rect x="188.00" y="186.75" width="5.2" height="5.9" fill="#dee3e9"/>
<rect x="194.00" y="186.75" width="5.2" height="5.9" fill="#dee3e9"/>
<rect x="200.00" y="186.75" width="5.2" height="5.9" fill="#dee3e9"/>
<rect x="206.00" y="186.75" width="5.2" height="5.9" fill="#dee3e9"/>
<rect x="212.00" y="186.75" width="5.2" height="5.9" fill="#dee3e9"/>
<rect x="218.00" y="186.75" width="5.2" height="5.9" fill="#dee3e9"/>
<rect x="224.00" y="186.75" width="5.2" height="5.9" fill="#dee3e9"/>
<rect x="230.00" y="186.75" width="5.2" height="5.9" fill="#dee3e9"/>
<rect x="236.00" y="186.75" width="5.2" height="5.9" fill="#dee3e9"/>
<rect x="242.00" y="186.75" width="5.2" height="5.9" fill="#dee3e9"/>
<rect x="248.00" y="186.75" width="5.2" height="5.9" fill="#dee3e9"/>
<rect x="254.00" y="186.75" width="5.2" height="5.9" fill="#dee3e9"/>
<rect x="260.00" y="186.75" width="5.2" height="5.9" fill="#dee3e9"/>
<rect x="266.00" y="186.75" width="5.2" height="5.9" fill="#dee3e9"/>
<rect x="272.00" y="186.75" width="5.2" height="5.9" fill="#dee3e9"/>
<rect x="278.00" y="186.75" width="5.2" height="5.9" fill="#dee3e9"/>
<rect x="284.00" y="186.75" width="5.2" height="5.9" fill="#dee3e9"/>
<rect x="290.00" y="186.75" width="5.2" height="5.9" fill="#dee3e9"/>
<rect x="296.00" y="186.75" width="5.2" height="5.9" fill="#dee3e9"/>
<rect x="302.00" y="186.75" width="5.2" height="5.9" fill="#dee3e9"/>
<rect x="308.00" y="186.75" width="5.2" height="5.9" fill="#dee3e9"/>
<rect x="314.00" y="186.75" width="5.2" height="5.9" fill="#dee3e9"/>
<rect x="320.00" y="186.75" width="5.2" height="5.9" fill="#dee3e9"/>
<rect x="326.00" y="186.75" width="5.2" height="5.9" fill="#dee3e9"/>
<rect x="332.00" y="186.75" width="5.2" height="5.9" fill="#dee3e9"/>
<rect x="338.00" y="186.75" width="5.2" height="5.9" fill="#dee3e9"/>
<rect x="344.00" y="186.75" width="5.2" height="5.9" fill="#dee3e9"/>
<rect x="350.00" y="186.75" width="5.2" height="5.9" fill="#dee3e9"/>
<rect x="356.00" y="186.75" width="5.2" height="5.9" fill="#dee3e9"/>
<rect x="362.00" y="186.75" width="5.2" height="5.9" fill="#dee3e9"/>
<rect x="368.00" y="186.75" width="5.2" height="5.9" fill="#dee3e9"/>
<rect x="374.00" y="186.75" width="5.2" height="5.9" fill="#dee3e9"/>
<rect x="380.00" y="186.75" width="5.2" height="5.9" fill="#dee3e9"/>
<rect x="386.00" y="186.75" width="5.2" height="5.9" fill="#dee3e9"/>
<rect x="392.00" y="186.75" width="5.2" height="5.9" fill="#dee3e9"/>
<rect x="398.00" y="186.75" width="5.2" height="5.9" fill="#dee3e9"/>
<rect x="404.00" y="186.75" width="5.2" height="5.9" fill="#dee3e9"/>
<text transform="translate(41.40,191.95) scale(0.9,1)" font-size="6.8" text-anchor="end" fill="#3a3a3a" font-style="italic">USH2A</text>
<rect x="56.00" y="139.50" width="5.2" height="5.9" fill="#e2166a"/>
<rect x="170.00" y="146.25" width="5.2" height="5.9" fill="#343b8e"/>
<rect x="176.00" y="146.25" width="5.2" height="5.9" fill="#343b8e"/>
<rect x="182.00" y="146.25" width="5.2" height="5.9" fill="#343b8e"/>
<rect x="356.00" y="146.25" width="5.2" height="5.9" fill="#343b8e"/>
<rect x="80.00" y="153.00" width="5.2" height="5.9" fill="#1c9e61"/>
<rect x="278.00" y="159.75" width="5.2" height="5.9" fill="#e2166a"/>
<rect x="284.00" y="159.75" width="5.2" height="5.9" fill="#e2166a"/>
<rect x="374.00" y="166.50" width="5.2" height="5.9" fill="#343b8e"/>
<rect x="380.00" y="166.50" width="5.2" height="5.9" fill="#343b8e"/>
<rect x="230.00" y="173.25" width="5.2" height="5.9" fill="#343b8e"/>
<rect x="98.00" y="180.00" width="5.2" height="5.9" fill="#343b8e"/>
<rect x="260.00" y="186.75" width="5.2" height="5.9" fill="#343b8e"/>
<text transform="translate(48.00,195.4) rotate(-90)" font-size="6.2" letter-spacing="-0.25" text-anchor="end" style="fill:#2a2a2a">FPD<tspan style="fill:#c8c8c8">_</tspan>12.5</text>
<text transform="translate(54.00,195.4) rotate(-90)" font-size="6.2" letter-spacing="-0.25" text-anchor="end" style="fill:#2a2a2a">FPD<tspan style="fill:#c8c8c8">_</tspan>12.1</text>
<text transform="translate(60.00,195.4) rotate(-90)" font-size="6.2" letter-spacing="-0.25" text-anchor="end" style="fill:#2a2a2a">FPD<tspan style="fill:#c8c8c8">_</tspan>35.4</text>
<text transform="translate(66.00,195.4) rotate(-90)" font-size="6.2" letter-spacing="-0.25" text-anchor="end" style="fill:#2a2a2a">FPD<tspan style="fill:#c8c8c8">_</tspan>35.1</text>
<text transform="translate(72.00,195.4) rotate(-90)" font-size="6.2" letter-spacing="-0.25" text-anchor="end" style="fill:#2a2a2a">FPD<tspan style="fill:#c8c8c8">_</tspan>6.1</text>
<text transform="translate(78.00,195.4) rotate(-90)" font-size="6.2" letter-spacing="-0.25" text-anchor="end" style="fill:#2a2a2a">FPD<tspan style="fill:#c8c8c8">_</tspan>29.1</text>
<text transform="translate(84.00,195.4) rotate(-90)" font-size="6.2" letter-spacing="-0.25" text-anchor="end" style="fill:#2a2a2a">FPD<tspan style="fill:#c8c8c8">_</tspan>29.2</text>
<text transform="translate(90.00,195.4) rotate(-90)" font-size="6.2" letter-spacing="-0.25" text-anchor="end" style="fill:#2a2a2a">FPD<tspan style="fill:#c8c8c8">_</tspan>33.2</text>
<text transform="translate(96.00,195.4) rotate(-90)" font-size="6.2" letter-spacing="-0.25" text-anchor="end" style="fill:#2a2a2a">FPD<tspan style="fill:#c8c8c8">_</tspan>33.1</text>
<text transform="translate(102.00,195.4) rotate(-90)" font-size="6.2" letter-spacing="-0.25" text-anchor="end" style="fill:#2a2a2a">FPD<tspan style="fill:#c8c8c8">_</tspan>14.1</text>
<text transform="translate(108.00,195.4) rotate(-90)" font-size="6.2" letter-spacing="-0.25" text-anchor="end" style="fill:#2a2a2a">FPD<tspan style="fill:#c8c8c8">_</tspan>4.1</text>
<text transform="translate(114.00,195.4) rotate(-90)" font-size="6.2" letter-spacing="-0.25" text-anchor="end" style="fill:#2a2a2a">FPD<tspan style="fill:#c8c8c8">_</tspan>4.2</text>
<text transform="translate(120.00,195.4) rotate(-90)" font-size="6.2" letter-spacing="-0.25" text-anchor="end" style="fill:#2a2a2a">FPD<tspan style="fill:#c8c8c8">_</tspan>10.2</text>
<text transform="translate(126.00,195.4) rotate(-90)" font-size="6.2" letter-spacing="-0.25" text-anchor="end" style="fill:#2a2a2a">FPD<tspan style="fill:#c8c8c8">_</tspan>10.1</text>
<text transform="translate(132.00,195.4) rotate(-90)" font-size="6.2" letter-spacing="-0.25" text-anchor="end" style="fill:#2a2a2a">FPD<tspan style="fill:#c8c8c8">_</tspan>10.7</text>
<text transform="translate(138.00,195.4) rotate(-90)" font-size="6.2" letter-spacing="-0.25" text-anchor="end" style="fill:#2a2a2a">FPD<tspan style="fill:#c8c8c8">_</tspan>10.8</text>
<text transform="translate(144.00,195.4) rotate(-90)" font-size="6.2" letter-spacing="-0.25" text-anchor="end" style="fill:#2a2a2a">FPD<tspan style="fill:#c8c8c8">_</tspan>10.9</text>
<text transform="translate(150.00,195.4) rotate(-90)" font-size="6.2" letter-spacing="-0.25" text-anchor="end" style="fill:#2a2a2a">FPD<tspan style="fill:#c8c8c8">_</tspan>10.3</text>
<text transform="translate(156.00,195.4) rotate(-90)" font-size="6.2" letter-spacing="-0.25" text-anchor="end" style="fill:#2a2a2a">FPD<tspan style="fill:#c8c8c8">_</tspan>10.6</text>
<text transform="translate(162.00,195.4) rotate(-90)" font-size="6.2" letter-spacing="-0.25" text-anchor="end" style="fill:#2a2a2a">FPD<tspan style="fill:#c8c8c8">_</tspan>10.4</text>
<text transform="translate(168.00,195.4) rotate(-90)" font-size="6.2" letter-spacing="-0.25" text-anchor="end" style="fill:#2a2a2a">FPD<tspan style="fill:#c8c8c8">_</tspan>23.6</text>
<text transform="translate(174.00,195.4) rotate(-90)" font-size="6.2" letter-spacing="-0.25" text-anchor="end" style="fill:#2a2a2a">FPD<tspan style="fill:#c8c8c8">_</tspan>23.3</text>
<text transform="translate(180.00,195.4) rotate(-90)" font-size="6.2" letter-spacing="-0.25" text-anchor="end" style="fill:#2a2a2a">FPD<tspan style="fill:#c8c8c8">_</tspan>23.4</text>
<text transform="translate(186.00,195.4) rotate(-90)" font-size="6.2" letter-spacing="-0.25" text-anchor="end" style="fill:#2a2a2a">FPD<tspan style="fill:#c8c8c8">_</tspan>23.1</text>
<text transform="translate(192.00,195.4) rotate(-90)" font-size="6.2" letter-spacing="-0.25" text-anchor="end" style="fill:#2a2a2a">FPD<tspan style="fill:#c8c8c8">_</tspan>17.1</text>
<text transform="translate(198.00,195.4) rotate(-90)" font-size="6.2" letter-spacing="-0.25" text-anchor="end" style="fill:#2a2a2a">FPD<tspan style="fill:#c8c8c8">_</tspan>17.2</text>
<text transform="translate(204.00,195.4) rotate(-90)" font-size="6.2" letter-spacing="-0.25" text-anchor="end" style="fill:#2a2a2a">FPD<tspan style="fill:#c8c8c8">_</tspan>50.2</text>
<text transform="translate(210.00,195.4) rotate(-90)" font-size="6.2" letter-spacing="-0.25" text-anchor="end" style="fill:#2a2a2a">FPD<tspan style="fill:#c8c8c8">_</tspan>50.3</text>
<text transform="translate(216.00,195.4) rotate(-90)" font-size="6.2" letter-spacing="-0.25" text-anchor="end" style="fill:#2a2a2a">FPD<tspan style="fill:#c8c8c8">_</tspan>37.2</text>
<text transform="translate(222.00,195.4) rotate(-90)" font-size="6.2" letter-spacing="-0.25" text-anchor="end" style="fill:#2a2a2a">FPD<tspan style="fill:#c8c8c8">_</tspan>42.2</text>
<text transform="translate(228.00,195.4) rotate(-90)" font-size="6.2" letter-spacing="-0.25" text-anchor="end" style="fill:#2a2a2a">FPD<tspan style="fill:#c8c8c8">_</tspan>42.5</text>
<text transform="translate(234.00,195.4) rotate(-90)" font-size="6.2" letter-spacing="-0.25" text-anchor="end" style="fill:#2a2a2a">FPD<tspan style="fill:#c8c8c8">_</tspan>42.4</text>
<text transform="translate(240.00,195.4) rotate(-90)" font-size="6.2" letter-spacing="-0.25" text-anchor="end" style="fill:#2a2a2a">FPD<tspan style="fill:#c8c8c8">_</tspan>5.2</text>
<text transform="translate(246.00,195.4) rotate(-90)" font-size="6.2" letter-spacing="-0.25" text-anchor="end" style="fill:#2a2a2a">FPD<tspan style="fill:#c8c8c8">_</tspan>5.3</text>
<text transform="translate(252.00,195.4) rotate(-90)" font-size="6.2" letter-spacing="-0.25" text-anchor="end" style="fill:#2a2a2a">FPD<tspan style="fill:#c8c8c8">_</tspan>5.5</text>
<text transform="translate(258.00,195.4) rotate(-90)" font-size="6.2" letter-spacing="-0.25" text-anchor="end" style="fill:#2a2a2a">FPD<tspan style="fill:#c8c8c8">_</tspan>5.1</text>
<text transform="translate(264.00,195.4) rotate(-90)" font-size="6.2" letter-spacing="-0.25" text-anchor="end" style="fill:#2a2a2a">FPD<tspan style="fill:#c8c8c8">_</tspan>55.1</text>
<text transform="translate(270.00,195.4) rotate(-90)" font-size="6.2" letter-spacing="-0.25" text-anchor="end" style="fill:#2a2a2a">FPD<tspan style="fill:#c8c8c8">_</tspan>52.1</text>
<text transform="translate(276.00,195.4) rotate(-90)" font-size="6.2" letter-spacing="-0.25" text-anchor="end" style="fill:#2a2a2a">FPD<tspan style="fill:#c8c8c8">_</tspan>52.3</text>
<text transform="translate(282.00,195.4) rotate(-90)" font-size="6.2" letter-spacing="-0.25" text-anchor="end" style="fill:#2a2a2a">FPD<tspan style="fill:#c8c8c8">_</tspan>7.4</text>
<text transform="translate(288.00,195.4) rotate(-90)" font-size="6.2" letter-spacing="-0.25" text-anchor="end" style="fill:#2a2a2a">FPD<tspan style="fill:#c8c8c8">_</tspan>7.3</text>
<text transform="translate(294.00,195.4) rotate(-90)" font-size="6.2" letter-spacing="-0.25" text-anchor="end" style="fill:#2a2a2a">FPD<tspan style="fill:#c8c8c8">_</tspan>7.2</text>
<text transform="translate(300.00,195.4) rotate(-90)" font-size="6.2" letter-spacing="-0.25" text-anchor="end" style="fill:#2a2a2a">FPD<tspan style="fill:#c8c8c8">_</tspan>7.1</text>
<text transform="translate(306.00,195.4) rotate(-90)" font-size="6.2" letter-spacing="-0.25" text-anchor="end" style="fill:#2a2a2a">FPD<tspan style="fill:#c8c8c8">_</tspan>21.1</text>
<text transform="translate(312.00,195.4) rotate(-90)" font-size="6.2" letter-spacing="-0.25" text-anchor="end" style="fill:#2a2a2a">FPD<tspan style="fill:#c8c8c8">_</tspan>20.1</text>
<text transform="translate(318.00,195.4) rotate(-90)" font-size="6.2" letter-spacing="-0.25" text-anchor="end" style="fill:#2a2a2a">FPD<tspan style="fill:#c8c8c8">_</tspan>9.3</text>
<text transform="translate(324.00,195.4) rotate(-90)" font-size="6.2" letter-spacing="-0.25" text-anchor="end" style="fill:#2a2a2a">FPD<tspan style="fill:#c8c8c8">_</tspan>9.6</text>
<text transform="translate(330.00,195.4) rotate(-90)" font-size="6.2" letter-spacing="-0.25" text-anchor="end" style="fill:#2a2a2a">FPD<tspan style="fill:#c8c8c8">_</tspan>9.7</text>
<text transform="translate(336.00,195.4) rotate(-90)" font-size="6.2" letter-spacing="-0.25" text-anchor="end" style="fill:#2a2a2a">FPD<tspan style="fill:#c8c8c8">_</tspan>9.1</text>
<text transform="translate(342.00,195.4) rotate(-90)" font-size="6.2" letter-spacing="-0.25" text-anchor="end" style="fill:#2a2a2a">FPD<tspan style="fill:#c8c8c8">_</tspan>3.1</text>
<text transform="translate(348.00,195.4) rotate(-90)" font-size="6.2" letter-spacing="-0.25" text-anchor="end" style="fill:#2a2a2a">FPD<tspan style="fill:#c8c8c8">_</tspan>3.3</text>
<text transform="translate(354.00,195.4) rotate(-90)" font-size="6.2" letter-spacing="-0.25" text-anchor="end" style="fill:#2a2a2a">FPD<tspan style="fill:#c8c8c8">_</tspan>3.4</text>
<text transform="translate(360.00,195.4) rotate(-90)" font-size="6.2" letter-spacing="-0.25" text-anchor="end" style="fill:#2a2a2a">FPD<tspan style="fill:#c8c8c8">_</tspan>40.1</text>
<text transform="translate(366.00,195.4) rotate(-90)" font-size="6.2" letter-spacing="-0.25" text-anchor="end" style="fill:#2a2a2a">FPD<tspan style="fill:#c8c8c8">_</tspan>40.3</text>
<text transform="translate(372.00,195.4) rotate(-90)" font-size="6.2" letter-spacing="-0.25" text-anchor="end" style="fill:#2a2a2a">FPD<tspan style="fill:#c8c8c8">_</tspan>47.1</text>
<text transform="translate(378.00,195.4) rotate(-90)" font-size="6.2" letter-spacing="-0.25" text-anchor="end" style="fill:#2a2a2a">FPD<tspan style="fill:#c8c8c8">_</tspan>16.3</text>
<text transform="translate(384.00,195.4) rotate(-90)" font-size="6.2" letter-spacing="-0.25" text-anchor="end" style="fill:#2a2a2a">FPD<tspan style="fill:#c8c8c8">_</tspan>16.1</text>
<text transform="translate(390.00,195.4) rotate(-90)" font-size="6.2" letter-spacing="-0.25" text-anchor="end" style="fill:#2a2a2a">FPD<tspan style="fill:#c8c8c8">_</tspan>25.4</text>
<text transform="translate(396.00,195.4) rotate(-90)" font-size="6.2" letter-spacing="-0.25" text-anchor="end" style="fill:#2a2a2a">FPD<tspan style="fill:#c8c8c8">_</tspan>25.3</text>
<text transform="translate(402.00,195.4) rotate(-90)" font-size="6.2" letter-spacing="-0.25" text-anchor="end" style="fill:#2a2a2a">FPD<tspan style="fill:#c8c8c8">_</tspan>36.1</text>
<text transform="translate(408.00,195.4) rotate(-90)" font-size="6.2" letter-spacing="-0.25" text-anchor="end" style="fill:#2a2a2a">FPD<tspan style="fill:#c8c8c8">_</tspan>49.1</text>
<rect x="413.6" y="153.40" width="45.0" height="6.8" fill="#e1e6ec"/>
<rect x="464.2" y="153.40" width="46" height="6.8" fill="#e1e6ec"/>
<rect x="413.6" y="167.00" width="45.0" height="6.8" fill="#e1e6ec"/>
<rect x="464.2" y="167.00" width="46" height="6.8" fill="#e1e6ec"/>
<rect x="413.6" y="180.60" width="45.0" height="6.8" fill="#e1e6ec"/>
<rect x="464.2" y="180.60" width="46" height="6.8" fill="#e1e6ec"/>
<rect x="413.6" y="194.20" width="45.0" height="6.8" fill="#e1e6ec"/>
<rect x="464.2" y="194.20" width="46" height="6.8" fill="#e1e6ec"/>
<text transform="translate(421.50,150.4) rotate(-90)" font-size="5.75">Myeloid cell differentiation</text>
<text transform="translate(432.90,150.4) rotate(-90)" font-size="5.75">Platelet maturation and activation</text>
<text transform="translate(444.10,150.4) rotate(-90)" font-size="5.75">Hemostasis</text>
<text transform="translate(455.50,150.4) rotate(-90)" font-size="5.75">Coagulation and clotting</text>
<line x1="419.6" y1="156.70" x2="453.6" y2="156.70" stroke="#a83a58" stroke-width="1.0"/>
<circle cx="419.6" cy="156.70" r="2.15" fill="#730a26"/>
<circle cx="453.6" cy="156.70" r="2.15" fill="#730a26"/>
<circle cx="419.6" cy="163.50" r="2.15" fill="#730a26"/>
<line x1="431.0" y1="170.30" x2="453.6" y2="170.30" stroke="#a83a58" stroke-width="1.0"/>
<circle cx="431.0" cy="170.30" r="2.15" fill="#730a26"/>
<circle cx="442.2" cy="170.30" r="2.15" fill="#730a26"/>
<circle cx="453.6" cy="170.30" r="2.15" fill="#730a26"/>
<circle cx="431.0" cy="177.10" r="2.15" fill="#730a26"/>
<line x1="431.0" y1="183.90" x2="453.6" y2="183.90" stroke="#a83a58" stroke-width="1.0"/>
<circle cx="431.0" cy="183.90" r="2.15" fill="#730a26"/>
<circle cx="442.2" cy="183.90" r="2.15" fill="#730a26"/>
<circle cx="453.6" cy="183.90" r="2.15" fill="#730a26"/>
<circle cx="419.6" cy="190.70" r="2.15" fill="#730a26"/>
<circle cx="431.0" cy="197.50" r="2.15" fill="#730a26"/>
<circle cx="431.0" cy="204.30" r="2.15" fill="#730a26"/>
<line x1="487.3" y1="153.4" x2="487.3" y2="208.2" stroke="#c8c8c8" stroke-width="0.5"/>
<rect x="464.2" y="154.40" width="4.70" height="4.6" fill="#e2166a"/>
<rect x="464.2" y="161.20" width="9.40" height="4.6" fill="#343b8e"/>
<rect x="464.2" y="168.00" width="4.70" height="4.6" fill="#1c9e61"/>
<rect x="464.2" y="174.80" width="4.70" height="4.6" fill="#e2166a"/>
<rect x="464.2" y="181.60" width="4.70" height="4.6" fill="#343b8e"/>
<rect x="464.2" y="188.40" width="4.70" height="4.6" fill="#343b8e"/>
<rect x="464.2" y="195.20" width="4.70" height="4.6" fill="#343b8e"/>
<rect x="464.2" y="202.00" width="4.70" height="4.6" fill="#343b8e"/>
<circle cx="477.2" cy="163.50" r="1.35" fill="#c06070"/>
<circle cx="485.4" cy="170.30" r="1.35" fill="#85686f"/>
<circle cx="488.4" cy="177.10" r="1.35" fill="#85686f"/>
<circle cx="491.2" cy="183.90" r="1.35" fill="#85686f"/>
<circle cx="502.8" cy="190.70" r="1.35" fill="#85686f"/>
<circle cx="506.4" cy="197.50" r="1.35" fill="#85686f"/>
<circle cx="508.0" cy="204.30" r="1.35" fill="#85686f"/>
<line x1="464.2" y1="153.4" x2="510.3" y2="153.4" stroke="#444" stroke-width="0.8"/>
<line x1="464.2" y1="208.2" x2="510.3" y2="208.2" stroke="#444" stroke-width="0.8"/>
<line x1="464.2" y1="153.4" x2="464.2" y2="208.2" stroke="#444" stroke-width="0.8"/>
<line x1="510.3" y1="153.4" x2="510.3" y2="208.2" stroke="#444" stroke-width="0.8"/>
<line x1="466.9" y1="151.4" x2="466.9" y2="153.4" stroke="#444" stroke-width="0.8"/>
<line x1="510.3" y1="151.4" x2="510.3" y2="153.4" stroke="#444" stroke-width="0.8"/>
<line x1="470.0" y1="208.2" x2="470.0" y2="210.2" stroke="#444" stroke-width="0.8"/>
<line x1="487.3" y1="208.2" x2="487.3" y2="210.2" stroke="#444" stroke-width="0.8"/>
<line x1="509.7" y1="208.2" x2="509.7" y2="210.2" stroke="#444" stroke-width="0.8"/>
<text x="467.2" y="146.0" font-size="5.8" text-anchor="middle" fill="#555">5</text>
<text x="510.0" y="146.0" font-size="5.8" text-anchor="middle" fill="#555">0</text>
<text x="464.6" y="219.6" font-size="6.2" text-anchor="middle" fill="#555">0</text>
<text x="487.3" y="219.6" font-size="6.2" text-anchor="middle" fill="#555">5</text>
<text x="510.3" y="219.6" font-size="6.2" text-anchor="middle" fill="#555">10</text>
<text x="467.3" y="126.4" font-size="7.5" textLength="40.3" lengthAdjust="spacingAndGlyphs">Norm. Fam.</text>
<text x="467.3" y="135.4" font-size="7.5" textLength="40.0" lengthAdjust="spacingAndGlyphs">Recc (Star)</text>
<text x="467.2" y="230.6" font-size="6.6" textLength="39.4" lengthAdjust="spacingAndGlyphs" stroke="#222" stroke-width="0.12">Mut. Fam. count</text>
<text x="480.6" y="240.1" font-size="6.6" textLength="12.7" lengthAdjust="spacingAndGlyphs" stroke="#222" stroke-width="0.12">(bar)</text>
<text transform="translate(96.80,19.50) scale(0.89,1)" font-size="6.45" text-anchor="end" >Missense</text>
<rect x="99.6" y="15.65" width="6.6" height="3.7" fill="#343b8e"/>
<text transform="translate(96.80,28.25) scale(0.89,1)" font-size="6.45" text-anchor="end" >Splice site</text>
<rect x="99.6" y="24.40" width="6.6" height="3.7" fill="#e2166a"/>
<text transform="translate(96.80,37.00) scale(0.89,1)" font-size="6.45" text-anchor="end" >Inframe InDel</text>
<rect x="99.6" y="33.15" width="6.6" height="3.7" fill="#22aab8"/>
<text transform="translate(96.80,45.75) scale(0.89,1)" font-size="6.45" text-anchor="end" >Frameshift InDel</text>
<rect x="99.6" y="41.90" width="6.6" height="3.7" fill="#f39a2b"/>
<text transform="translate(96.80,54.50) scale(0.89,1)" font-size="6.45" text-anchor="end" >Nonsense</text>
<rect x="99.6" y="50.65" width="6.6" height="3.7" fill="#1c9e61"/>
<text transform="translate(96.80,63.25) scale(0.89,1)" font-size="6.45" text-anchor="end" >Multihit</text>
<rect x="99.6" y="59.40" width="6.6" height="3.7" fill="#111111"/>
<text transform="translate(141.20,10.80) scale(0.89,1)" font-size="6.45" text-anchor="middle" >(Age)</text>
<text transform="translate(135.20,19.50) scale(0.89,1)" font-size="6.45" text-anchor="end" >&lt;20</text>
<rect x="138.0" y="15.65" width="5.2" height="3.7" fill="#ccd41e"/>
<text transform="translate(135.20,28.25) scale(0.89,1)" font-size="6.45" text-anchor="end" >20-60</text>
<rect x="138.0" y="24.40" width="5.2" height="3.7" fill="#13a08a"/>
<text transform="translate(135.20,37.00) scale(0.89,1)" font-size="6.45" text-anchor="end" >&gt;60</text>
<rect x="138.0" y="33.15" width="5.2" height="3.7" fill="#106570"/>
<text transform="translate(182.00,10.80) scale(0.89,1)" font-size="6.45" text-anchor="middle" >(MPV)</text>
<text transform="translate(175.80,19.50) scale(0.89,1)" font-size="6.45" text-anchor="end" >Low</text>
<rect x="179.6" y="15.65" width="5.6" height="3.7" fill="#7e4fa8"/>
<text transform="translate(175.80,28.25) scale(0.89,1)" font-size="6.45" text-anchor="end" >Normal</text>
<rect x="179.6" y="24.40" width="5.6" height="3.7" fill="#f0bce0"/>
<text transform="translate(175.80,37.00) scale(0.89,1)" font-size="6.45" text-anchor="end" >High</text>
<rect x="179.6" y="33.15" width="5.6" height="3.7" fill="#3d0b26"/>
<text transform="translate(219.70,10.80) scale(0.89,1)" font-size="6.45" text-anchor="middle" >Sex</text>
<text transform="translate(214.60,19.50) scale(0.89,1)" font-size="6.45" text-anchor="end" >M</text>
<rect x="217.6" y="15.65" width="5.4" height="3.7" fill="#fcdac4"/>
<text transform="translate(214.60,28.25) scale(0.89,1)" font-size="6.45" text-anchor="end" >F</text>
<rect x="217.6" y="24.40" width="5.4" height="3.7" fill="#c6c8ec"/>
<text transform="translate(254.30,10.80) scale(0.89,1)" font-size="6.45" text-anchor="middle" >(ISTH-BAT)</text>
<defs><linearGradient id="isg" x1="0" y1="0" x2="0" y2="1"><stop offset="0" stop-color="#f2fafc"/><stop offset="0.2" stop-color="#cdebf3"/><stop offset="0.45" stop-color="#5cc0dc"/><stop offset="0.7" stop-color="#22a6d0"/><stop offset="1" stop-color="#0d80b4"/></linearGradient></defs>
<rect x="252.3" y="15.4" width="5.4" height="18.2" fill="url(#isg)"/>
<line x1="250.4" y1="16.0" x2="252.3" y2="16.0" stroke="#888" stroke-width="0.5"/>
<text transform="translate(247.00,18.10) scale(0.89,1)" font-size="6.45" text-anchor="end" >0</text>
<line x1="250.4" y1="24.8" x2="252.3" y2="24.8" stroke="#888" stroke-width="0.5"/>
<text transform="translate(247.00,26.90) scale(0.89,1)" font-size="6.45" text-anchor="end" >6</text>
<line x1="250.4" y1="33.4" x2="252.3" y2="33.4" stroke="#888" stroke-width="0.5"/>
<text transform="translate(247.00,35.50) scale(0.89,1)" font-size="6.45" text-anchor="end" >12</text>
<text transform="translate(298.00,10.80) scale(0.89,1)" font-size="6.45" text-anchor="middle" >(<tspan font-style="italic">RUNX1</tspan> Mut)</text>
<text transform="translate(291.80,19.50) scale(0.89,1)" font-size="6.45" text-anchor="end" >B/LB</text>
<rect x="294.4" y="15.65" width="5.4" height="3.7" fill="#1ea8a1"/>
<text transform="translate(291.80,28.25) scale(0.89,1)" font-size="6.45" text-anchor="end" >CNV</text>
<rect x="294.4" y="24.40" width="5.4" height="3.7" fill="#c48ccc"/>
<text transform="translate(291.80,37.00) scale(0.89,1)" font-size="6.45" text-anchor="end" >N/FS</text>
<rect x="294.4" y="33.15" width="5.4" height="3.7" fill="#fbbd1c"/>
<text transform="translate(291.80,45.75) scale(0.89,1)" font-size="6.45" text-anchor="end" >Splice site</text>
<rect x="294.4" y="41.90" width="5.4" height="3.7" fill="#ef7424"/>
<text transform="translate(291.80,54.50) scale(0.89,1)" font-size="6.45" text-anchor="end" >M(RUNT)</text>
<rect x="294.4" y="50.65" width="5.4" height="3.7" fill="#68ad3a"/>
<text transform="translate(291.80,63.25) scale(0.89,1)" font-size="6.45" text-anchor="end" >M(TAD)</text>
<rect x="294.4" y="59.40" width="5.4" height="3.7" fill="#0d5e60"/>
<text transform="translate(347.40,10.80) scale(0.89,1)" font-size="6.45" text-anchor="middle" >(Plt.Ct)</text>
<text transform="translate(341.60,19.50) scale(0.89,1)" font-size="6.45" text-anchor="end" >&lt;100</text>
<rect x="345.2" y="15.65" width="5.8" height="3.7" fill="#a10d2a"/>
<text transform="translate(341.60,28.25) scale(0.89,1)" font-size="6.45" text-anchor="end" >(100,150)</text>
<rect x="345.2" y="24.40" width="5.8" height="3.7" fill="#e1262b"/>
<text transform="translate(341.60,37.00) scale(0.89,1)" font-size="6.45" text-anchor="end" >(150,200)</text>
<rect x="345.2" y="33.15" width="5.8" height="3.7" fill="#f07c38"/>
<text transform="translate(341.60,45.75) scale(0.89,1)" font-size="6.45" text-anchor="end" >&gt;200</text>
<rect x="345.2" y="41.90" width="5.8" height="3.7" fill="#fbcf86"/>
<text transform="translate(383.00,10.80) scale(0.89,1)" font-size="6.45" text-anchor="middle" >(Som. Type)</text>
<text transform="translate(376.40,19.50) scale(0.89,1)" font-size="6.45" text-anchor="end" >Fib</text>
<rect x="379.4" y="15.65" width="5.8" height="3.7" fill="#0d7478"/>
<text transform="translate(376.40,28.25) scale(0.89,1)" font-size="6.45" text-anchor="end" >Single</text>
<rect x="379.4" y="24.40" width="5.8" height="3.7" fill="#d4e8ea"/>
<text transform="translate(376.40,35.80) scale(0.89,1)" font-size="6.45" text-anchor="end" >sample</text>
</g>
<line x1="0" y1="0.5" x2="520" y2="0.5" stroke="#5a5a5a" stroke-width="1"/>
<line x1="0" y1="248.5" x2="520" y2="248.5" stroke="#5a5a5a" stroke-width="1"/>
<line x1="519.5" y1="0" x2="519.5" y2="249" stroke="#555" stroke-width="1"/>
<line x1="0.5" y1="0" x2="0.5" y2="249" stroke="#505050" stroke-width="1"/>
</svg></body></html>
